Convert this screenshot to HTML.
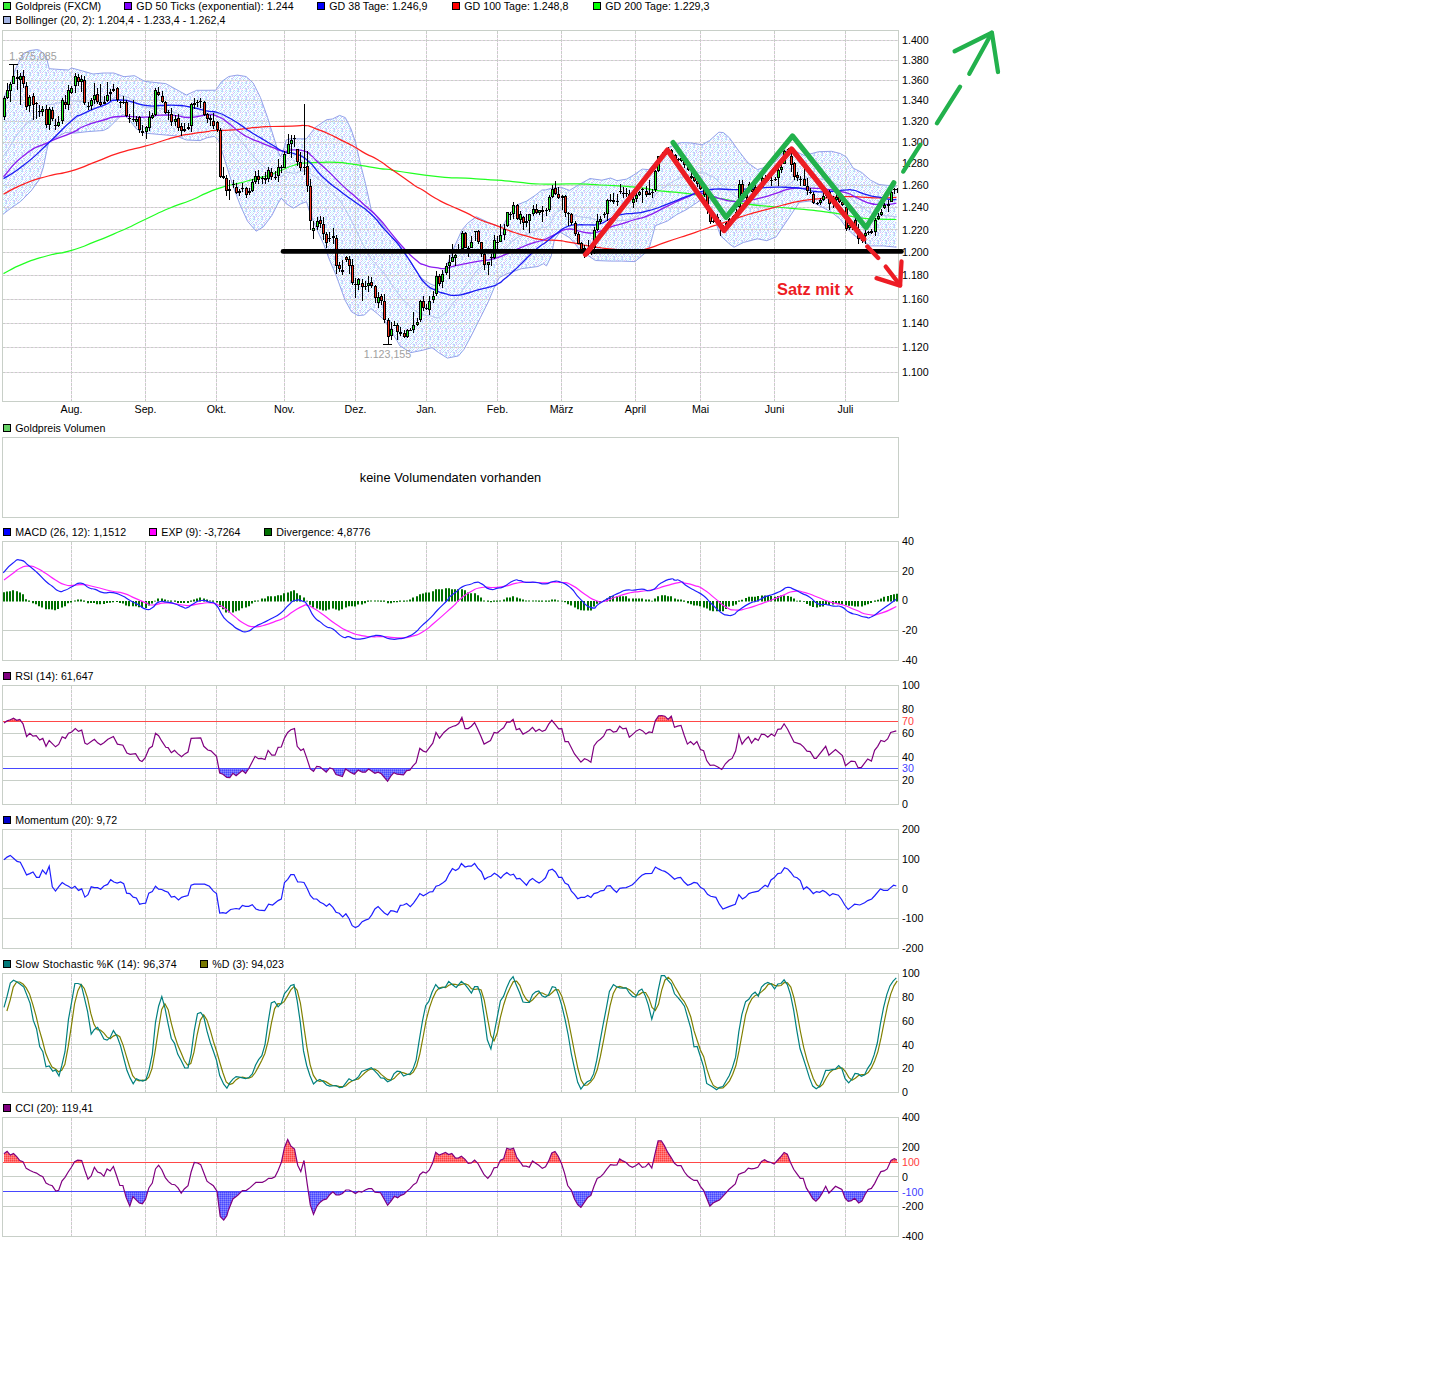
<!DOCTYPE html><html><head><meta charset="utf-8"><title>Goldpreis Chart</title><style>html,body{margin:0;padding:0;background:#fff;}svg{display:block;}text{font-family:"Liberation Sans",sans-serif;}</style></head><body><svg width="1450" height="1390" viewBox="0 0 1450 1390" font-family="Liberation Sans, sans-serif">
<defs>
<pattern id="bb" width="8" height="8" patternUnits="userSpaceOnUse">
<rect width="8" height="8" fill="#ffffff"/>
<rect x="0" y="0" width="1" height="1" fill="#c4ccfc"/>
<rect x="0" y="4" width="1" height="1" fill="#fcd0f8"/>
<rect x="0" y="6" width="1" height="1" fill="#c4ccfc"/>
<rect x="0" y="7" width="1" height="1" fill="#fcd0f8"/>
<rect x="1" y="1" width="1" height="1" fill="#fcd0f8"/>
<rect x="1" y="2" width="1" height="1" fill="#ccfcff"/>
<rect x="1" y="3" width="1" height="1" fill="#c4ccfc"/>
<rect x="1" y="5" width="1" height="1" fill="#c4ccfc"/>
<rect x="1" y="7" width="1" height="1" fill="#ccfcff"/>
<rect x="2" y="0" width="1" height="1" fill="#c4ccfc"/>
<rect x="2" y="2" width="1" height="1" fill="#c4ccfc"/>
<rect x="2" y="4" width="1" height="1" fill="#c4ccfc"/>
<rect x="2" y="6" width="1" height="1" fill="#ccfcff"/>
<rect x="3" y="3" width="1" height="1" fill="#ccfcff"/>
<rect x="3" y="5" width="1" height="1" fill="#ccfcff"/>
<rect x="3" y="7" width="1" height="1" fill="#c4ccfc"/>
<rect x="4" y="0" width="1" height="1" fill="#ccfcff"/>
<rect x="4" y="2" width="1" height="1" fill="#ccfcff"/>
<rect x="4" y="4" width="1" height="1" fill="#ccfcff"/>
<rect x="4" y="6" width="1" height="1" fill="#c4ccfc"/>
<rect x="5" y="0" width="1" height="1" fill="#c4ccfc"/>
<rect x="5" y="1" width="1" height="1" fill="#fcd0f8"/>
<rect x="5" y="2" width="1" height="1" fill="#ccfcff"/>
<rect x="5" y="3" width="1" height="1" fill="#c4ccfc"/>
<rect x="5" y="5" width="1" height="1" fill="#c4ccfc"/>
<rect x="5" y="7" width="1" height="1" fill="#ccfcff"/>
<rect x="6" y="0" width="1" height="1" fill="#c4ccfc"/>
<rect x="6" y="1" width="1" height="1" fill="#c4ccfc"/>
<rect x="6" y="2" width="1" height="1" fill="#c4ccfc"/>
<rect x="6" y="3" width="1" height="1" fill="#c4ccfc"/>
<rect x="6" y="4" width="1" height="1" fill="#ccfcff"/>
<rect x="7" y="1" width="1" height="1" fill="#ccfcff"/>
<rect x="7" y="3" width="1" height="1" fill="#ccfcff"/>
<rect x="7" y="6" width="1" height="1" fill="#c4ccfc"/>
<rect x="7" y="7" width="1" height="1" fill="#ccfcff"/>
</pattern>
<pattern id="redf" width="2" height="2" patternUnits="userSpaceOnUse"><rect width="2" height="2" fill="#ff6a6a"/><rect width="1" height="1" fill="#ff4040"/><rect x="1" y="1" width="1" height="1" fill="#ff8c8c"/></pattern>
<pattern id="bluef" width="2" height="2" patternUnits="userSpaceOnUse"><rect width="2" height="2" fill="#6a6aff"/><rect width="1" height="1" fill="#4848ff"/><rect x="1" y="1" width="1" height="1" fill="#8c8cff"/></pattern>
</defs>
<rect width="1450" height="1390" fill="#fff"/>
<rect x="3.5" y="2.5" width="7" height="7" fill="#33ee33" stroke="#000"/>
<text x="15.3" y="9.5" fill="#000" font-size="10.67" text-anchor="start" font-weight="normal">Goldpreis (FXCM)</text>
<rect x="124.5" y="2.5" width="7" height="7" fill="#7f00ff" stroke="#000"/>
<text x="136.3" y="9.5" fill="#000" font-size="10.67" text-anchor="start" font-weight="normal" letter-spacing="0.07">GD 50 Ticks (exponential): 1.244</text>
<rect x="317.5" y="2.5" width="7" height="7" fill="#0000ff" stroke="#000"/>
<text x="329.3" y="9.5" fill="#000" font-size="10.67" text-anchor="start" font-weight="normal">GD 38 Tage: 1.246,9</text>
<rect x="452.5" y="2.5" width="7" height="7" fill="#ff0000" stroke="#000"/>
<text x="464.3" y="9.5" fill="#000" font-size="10.67" text-anchor="start" font-weight="normal">GD 100 Tage: 1.248,8</text>
<rect x="593.5" y="2.5" width="7" height="7" fill="#00ff00" stroke="#000"/>
<text x="605.3" y="9.5" fill="#000" font-size="10.67" text-anchor="start" font-weight="normal">GD 200 Tage: 1.229,3</text>
<rect x="3.5" y="16.5" width="7" height="7" fill="#a4b4e4" stroke="#000"/>
<text x="15.3" y="23.5" fill="#000" font-size="10.67" text-anchor="start" font-weight="normal" letter-spacing="0.075">Bollinger (20, 2): 1.204,4 - 1.233,4 - 1.262,4</text>
<polygon points="3,99 4.3,96.8 8,88 12.1,79.5 15,70 19.4,61 23.3,53.7 30,50.5 36.9,49.6 39.7,50.3 44,54 46.5,57.8 49.2,68.7 60,69.5 68.4,70 71.6,68 82.8,71 93,74 103.4,73 113.8,73 124,76.7 134.5,75.7 144.8,81.4 165.7,83.6 176,89.3 186.4,95 196.7,90.3 207,90.3 215.8,90.2 221.6,81.6 228.8,76.5 237.4,75.1 246,76.5 253.2,83 260.4,97.4 267.6,117.6 274.8,140.6 277.5,150 280.5,157 283.5,150 286.3,140 290,138.8 306.5,138.8 315.1,127.6 326.6,119.7 332.4,119 339.6,115.4 345.3,117.6 351.1,129.1 355.4,142 359.7,160.7 365.5,183.7 371.2,209.6 380.7,222 390,234.9 397,243 405,254.2 410,260.2 415.1,269.7 420.1,276.8 425.1,280.8 430.2,283.8 434,285.5 438,284 443,274 449.3,259.2 453.3,249.1 457.4,240.1 461.9,230 467.4,223.5 476.1,216.7 485,220.8 492,224 498.5,226.3 502.5,226.5 505,222 509,214.8 517,204.9 526.4,201.2 535.7,195 541.9,190 545.8,189.9 551.2,188.3 560.9,187.2 569.5,190.4 580.3,183.9 590,178.5 601.9,180.2 610.5,178 617,180.7 626.7,179.1 635,174.2 642.2,169.1 648.7,169.6 658.1,159.3 669.3,147.1 681.5,142.5 690.8,142.9 702,144.8 709.5,140.6 718.9,132.2 723.5,132.6 729.4,137.8 738.7,150.9 748.1,163 757.4,169.6 766.8,166.8 776.1,161.2 785.5,149.9 794.8,150.9 804.2,155.5 810,154 818.6,151.7 831.6,151.3 840.2,153.5 846.3,156.9 853.2,168.1 861.8,172.5 870.5,180.2 879.1,184.5 887.7,185.4 896.4,186.3 896.4,247.2 883.4,245.9 870.5,245.9 861.8,240.7 853.2,234.6 846.3,227.7 840.2,219.1 831.6,212.2 818.6,205.3 810,201 799.5,202.3 794.8,208.9 785.5,222.9 776.1,236.9 766.8,240.7 757.4,238.8 743.4,242.5 734,247.2 730,244.4 720.7,236 714.2,218.2 704.8,202.3 700.2,200.4 686.1,209.8 676.8,214.5 667.4,221 655.3,225.7 648.7,250 635,261.6 621.3,261.1 610.5,261.1 595.4,260.5 589,256.2 580,250 570,238 560,232 554.4,240 551.2,256.2 546.5,265.9 543.4,263.7 537.9,266.5 521.4,268.7 505.9,274.2 499.3,277.5 493.8,288.6 488.3,301.8 480.6,317.2 471.7,334.9 464,349.3 458.5,355.9 447.4,358.1 438.6,352.6 432,347.6 422,350.4 411,352.6 400,346 396.8,340.3 390.3,329.9 383.9,319.5 377.4,313.7 370.9,308.5 364.4,315 358,315.6 351.5,311.8 345,300.1 336,275 329.5,260 323.7,244.2 315.1,225.5 309.4,211.1 306.5,201.7 300.7,203.9 293.5,208.2 286.3,203.9 281.3,198.1 277.7,203.9 271.9,215.4 263.3,226.9 256.1,231.2 247.5,221.2 240.3,205.3 233.1,186.6 225.9,163.6 218.7,140.6 214.4,136.3 207.2,137.7 200,140.6 186.4,140 176,135.9 160,134.5 144.8,133.1 136.5,129 129.3,119.7 123.1,114.5 119,117.6 108.6,127.9 103.4,130.5 87.9,131.6 74.5,133.1 65.2,132.6 54.8,138.3 48.6,142.4 46.5,151.7 43.4,167.2 39.3,179.7 31,191 20.7,201.4 10.3,208.6 3,214.3" fill="url(#bb)"/>
<line x1="2.5" y1="40.5" x2="898.5" y2="40.5" stroke="#fcdcfc" stroke-width="1"/>
<line x1="2.5" y1="40.5" x2="898.5" y2="40.5" stroke="#c8cfc8" stroke-width="1" stroke-dasharray="3,1"/>
<line x1="2.5" y1="60.5" x2="898.5" y2="60.5" stroke="#fcdcfc" stroke-width="1"/>
<line x1="2.5" y1="60.5" x2="898.5" y2="60.5" stroke="#c8cfc8" stroke-width="1" stroke-dasharray="3,1"/>
<line x1="2.5" y1="80.5" x2="898.5" y2="80.5" stroke="#fcdcfc" stroke-width="1"/>
<line x1="2.5" y1="80.5" x2="898.5" y2="80.5" stroke="#c8cfc8" stroke-width="1" stroke-dasharray="3,1"/>
<line x1="2.5" y1="100.5" x2="898.5" y2="100.5" stroke="#fcdcfc" stroke-width="1"/>
<line x1="2.5" y1="100.5" x2="898.5" y2="100.5" stroke="#c8cfc8" stroke-width="1" stroke-dasharray="3,1"/>
<line x1="2.5" y1="121.5" x2="898.5" y2="121.5" stroke="#fcdcfc" stroke-width="1"/>
<line x1="2.5" y1="121.5" x2="898.5" y2="121.5" stroke="#c8cfc8" stroke-width="1" stroke-dasharray="3,1"/>
<line x1="2.5" y1="142.5" x2="898.5" y2="142.5" stroke="#fcdcfc" stroke-width="1"/>
<line x1="2.5" y1="142.5" x2="898.5" y2="142.5" stroke="#c8cfc8" stroke-width="1" stroke-dasharray="3,1"/>
<line x1="2.5" y1="163.5" x2="898.5" y2="163.5" stroke="#fcdcfc" stroke-width="1"/>
<line x1="2.5" y1="163.5" x2="898.5" y2="163.5" stroke="#c8cfc8" stroke-width="1" stroke-dasharray="3,1"/>
<line x1="2.5" y1="185.5" x2="898.5" y2="185.5" stroke="#fcdcfc" stroke-width="1"/>
<line x1="2.5" y1="185.5" x2="898.5" y2="185.5" stroke="#c8cfc8" stroke-width="1" stroke-dasharray="3,1"/>
<line x1="2.5" y1="207.5" x2="898.5" y2="207.5" stroke="#fcdcfc" stroke-width="1"/>
<line x1="2.5" y1="207.5" x2="898.5" y2="207.5" stroke="#c8cfc8" stroke-width="1" stroke-dasharray="3,1"/>
<line x1="2.5" y1="229.5" x2="898.5" y2="229.5" stroke="#fcdcfc" stroke-width="1"/>
<line x1="2.5" y1="229.5" x2="898.5" y2="229.5" stroke="#c8cfc8" stroke-width="1" stroke-dasharray="3,1"/>
<line x1="2.5" y1="252.5" x2="898.5" y2="252.5" stroke="#fcdcfc" stroke-width="1"/>
<line x1="2.5" y1="252.5" x2="898.5" y2="252.5" stroke="#c8cfc8" stroke-width="1" stroke-dasharray="3,1"/>
<line x1="2.5" y1="275.5" x2="898.5" y2="275.5" stroke="#fcdcfc" stroke-width="1"/>
<line x1="2.5" y1="275.5" x2="898.5" y2="275.5" stroke="#c8cfc8" stroke-width="1" stroke-dasharray="3,1"/>
<line x1="2.5" y1="299.5" x2="898.5" y2="299.5" stroke="#fcdcfc" stroke-width="1"/>
<line x1="2.5" y1="299.5" x2="898.5" y2="299.5" stroke="#c8cfc8" stroke-width="1" stroke-dasharray="3,1"/>
<line x1="2.5" y1="323.5" x2="898.5" y2="323.5" stroke="#fcdcfc" stroke-width="1"/>
<line x1="2.5" y1="323.5" x2="898.5" y2="323.5" stroke="#c8cfc8" stroke-width="1" stroke-dasharray="3,1"/>
<line x1="2.5" y1="347.5" x2="898.5" y2="347.5" stroke="#fcdcfc" stroke-width="1"/>
<line x1="2.5" y1="347.5" x2="898.5" y2="347.5" stroke="#c8cfc8" stroke-width="1" stroke-dasharray="3,1"/>
<line x1="2.5" y1="372.5" x2="898.5" y2="372.5" stroke="#fcdcfc" stroke-width="1"/>
<line x1="2.5" y1="372.5" x2="898.5" y2="372.5" stroke="#c8cfc8" stroke-width="1" stroke-dasharray="3,1"/>
<line x1="71.5" y1="31" x2="71.5" y2="401" stroke="#fcdcfc" stroke-width="1"/>
<line x1="71.5" y1="31" x2="71.5" y2="401" stroke="#c8cfc8" stroke-width="1" stroke-dasharray="3,1"/>
<line x1="145.5" y1="31" x2="145.5" y2="401" stroke="#fcdcfc" stroke-width="1"/>
<line x1="145.5" y1="31" x2="145.5" y2="401" stroke="#c8cfc8" stroke-width="1" stroke-dasharray="3,1"/>
<line x1="216.5" y1="31" x2="216.5" y2="401" stroke="#fcdcfc" stroke-width="1"/>
<line x1="216.5" y1="31" x2="216.5" y2="401" stroke="#c8cfc8" stroke-width="1" stroke-dasharray="3,1"/>
<line x1="284.5" y1="31" x2="284.5" y2="401" stroke="#fcdcfc" stroke-width="1"/>
<line x1="284.5" y1="31" x2="284.5" y2="401" stroke="#c8cfc8" stroke-width="1" stroke-dasharray="3,1"/>
<line x1="355.5" y1="31" x2="355.5" y2="401" stroke="#fcdcfc" stroke-width="1"/>
<line x1="355.5" y1="31" x2="355.5" y2="401" stroke="#c8cfc8" stroke-width="1" stroke-dasharray="3,1"/>
<line x1="426.5" y1="31" x2="426.5" y2="401" stroke="#fcdcfc" stroke-width="1"/>
<line x1="426.5" y1="31" x2="426.5" y2="401" stroke="#c8cfc8" stroke-width="1" stroke-dasharray="3,1"/>
<line x1="497.5" y1="31" x2="497.5" y2="401" stroke="#fcdcfc" stroke-width="1"/>
<line x1="497.5" y1="31" x2="497.5" y2="401" stroke="#c8cfc8" stroke-width="1" stroke-dasharray="3,1"/>
<line x1="561.5" y1="31" x2="561.5" y2="401" stroke="#fcdcfc" stroke-width="1"/>
<line x1="561.5" y1="31" x2="561.5" y2="401" stroke="#c8cfc8" stroke-width="1" stroke-dasharray="3,1"/>
<line x1="635.5" y1="31" x2="635.5" y2="401" stroke="#fcdcfc" stroke-width="1"/>
<line x1="635.5" y1="31" x2="635.5" y2="401" stroke="#c8cfc8" stroke-width="1" stroke-dasharray="3,1"/>
<line x1="700.5" y1="31" x2="700.5" y2="401" stroke="#fcdcfc" stroke-width="1"/>
<line x1="700.5" y1="31" x2="700.5" y2="401" stroke="#c8cfc8" stroke-width="1" stroke-dasharray="3,1"/>
<line x1="774.5" y1="31" x2="774.5" y2="401" stroke="#fcdcfc" stroke-width="1"/>
<line x1="774.5" y1="31" x2="774.5" y2="401" stroke="#c8cfc8" stroke-width="1" stroke-dasharray="3,1"/>
<line x1="845.5" y1="31" x2="845.5" y2="401" stroke="#fcdcfc" stroke-width="1"/>
<line x1="845.5" y1="31" x2="845.5" y2="401" stroke="#c8cfc8" stroke-width="1" stroke-dasharray="3,1"/>
<polyline points="3,156.7 6,152.4 9,147.8 12,143.6 15,137.7 18,133.6 21,129.6 24,125.7 27,123.5 30,121.3 33,119.2 36,117 39,115.1 42,111.9 45,107.4 48,104.5 51,104.8 54,103.9 57,103.2 60,102.5 63,101.7 66,101.3 69,101.2 72,100.5 75,101 78,101.2 81,101.4 84,101.7 87,102 90,102.3 93,102.6 96,102.4 99,102.1 102,101.9 105,101.3 108,100.6 111,99.3 114,97.8 117,96.9 120,96 123,95.5 126,96.7 129,97.8 132,99.6 135,101.5 138,103.7 141,105.3 144,106.8 147,107.5 150,107.8 153,108.1 156,108.4 159,108.7 162,108.9 165,109.2 168,110 171,111 174,112 177,113.1 180,114.5 183,115.9 186,117.3 189,117 192,116.3 195,115.7 198,115.4 201,115.2 204,114.6 207,114 210,113.7 213,113.4 216,113.9 219,113.5 222,116.2 225,120 228,123.7 231,128 234,132.3 237,135.9 240,140 243,143.6 246,147.2 249,151.1 252,154.2 255,158.3 258,161.3 261,163.7 264,166.7 267,168.9 270,171.6 273,174 276,176 279,177.7 282,176.2 285,173.5 288,172.2 291,172.8 294,173.4 297,172.5 300,171.6 303,170.9 306,170.3 309,172.7 312,174.7 315,176.5 318,178.7 321,180.9 324,183.3 327,186.4 330,190.2 333,193.4 336,196.1 339,199.5 342,204 345,208.8 348,214.2 351,219.9 354,225.5 357,232 360,238.7 363,244.5 366,249.7 369,255 372,260 375,263.2 378,266.4 381,269.7 384,273.1 387,277.6 390,282.2 393,286.3 396,290.4 399,295 402,298.6 405,301.6 408,304.3 411,307.3 414,309.8 417,311.9 420,313.7 423,314.6 426,315.3 429,315.8 432,316.1 435,317.5 438,318.1 441,316.1 444,313.8 447,311.2 450,307.5 453,303.4 456,299.8 459,295.9 462,290.8 465,286.9 468,282.4 471,278.4 474,274.3 477,270.7 480,268.4 483,266.1 486,263.8 489,261.4 492,258.5 495,255.6 498,253.1 501,251.5 504,249.5 507,246.1 510,243.2 513,240.8 516,238.4 519,236.8 522,235.8 525,235 528,234 531,232.8 534,231.6 537,230.3 540,228.5 543,226.9 546,227.7 549,224.8 552,220.2 555,213.5 558,211.2 561,209.9 564,211.4 567,212.8 570,214 573,214.9 576,215.8 579,216.7 582,217.2 585,217.4 588,217.6 591,218.1 594,219.3 597,220 600,220.3 603,220.4 606,220 609,219.7 612,219.9 615,220.5 618,220.8 621,220.6 624,220.4 627,220.1 630,219.3 633,218.5 636,217.1 639,214.8 642,212.5 645,211.2 648,210.1 651,204.3 654,197.1 657,192.8 660,190.6 663,188.3 666,186.1 669,183.7 672,182 675,180.3 678,178.9 681,177.5 684,176.7 687,176 690,175 693,174.2 696,173.5 699,172.7 702,173 705,172.9 708,174.6 711,176 714,177.2 717,179.9 720,183.2 723,185.3 726,187.8 729,190.5 732,193.6 735,196.2 738,197.6 741,198.8 744,200 747,201.6 750,202.6 753,203.2 756,203.9 759,204.1 762,204 765,203.8 768,203.1 771,201.6 774,200.1 777,197.8 780,193.8 783,189.8 786,186.1 789,184 792,181.9 795,179.8 798,178.4 801,178 804,178.6 807,178.1 810,177.5 813,177.8 816,178.2 819,178.6 822,179.3 825,180.1 828,180.8 831,181.6 834,183 837,184.6 840,186.2 843,189.1 846,192 849,195.8 852,199.8 855,202.4 858,204.3 861,206.1 864,208.2 867,210.5 870,212.7 873,213.7 876,214.4 879,215.2 882,215.4 885,215.6 888,215.9 891,216.2 894,216.5 897,216.8" fill="none" stroke="#b8c6ee" stroke-width="1"/>
<polyline points="3,99 4.3,96.8 8,88 12.1,79.5 15,70 19.4,61 23.3,53.7 30,50.5 36.9,49.6 39.7,50.3 44,54 46.5,57.8 49.2,68.7 60,69.5 68.4,70 71.6,68 82.8,71 93,74 103.4,73 113.8,73 124,76.7 134.5,75.7 144.8,81.4 165.7,83.6 176,89.3 186.4,95 196.7,90.3 207,90.3 215.8,90.2 221.6,81.6 228.8,76.5 237.4,75.1 246,76.5 253.2,83 260.4,97.4 267.6,117.6 274.8,140.6 277.5,150 280.5,157 283.5,150 286.3,140 290,138.8 306.5,138.8 315.1,127.6 326.6,119.7 332.4,119 339.6,115.4 345.3,117.6 351.1,129.1 355.4,142 359.7,160.7 365.5,183.7 371.2,209.6 380.7,222 390,234.9 397,243 405,254.2 410,260.2 415.1,269.7 420.1,276.8 425.1,280.8 430.2,283.8 434,285.5 438,284 443,274 449.3,259.2 453.3,249.1 457.4,240.1 461.9,230 467.4,223.5 476.1,216.7 485,220.8 492,224 498.5,226.3 502.5,226.5 505,222 509,214.8 517,204.9 526.4,201.2 535.7,195 541.9,190 545.8,189.9 551.2,188.3 560.9,187.2 569.5,190.4 580.3,183.9 590,178.5 601.9,180.2 610.5,178 617,180.7 626.7,179.1 635,174.2 642.2,169.1 648.7,169.6 658.1,159.3 669.3,147.1 681.5,142.5 690.8,142.9 702,144.8 709.5,140.6 718.9,132.2 723.5,132.6 729.4,137.8 738.7,150.9 748.1,163 757.4,169.6 766.8,166.8 776.1,161.2 785.5,149.9 794.8,150.9 804.2,155.5 810,154 818.6,151.7 831.6,151.3 840.2,153.5 846.3,156.9 853.2,168.1 861.8,172.5 870.5,180.2 879.1,184.5 887.7,185.4 896.4,186.3" fill="none" stroke="#94a2ea" stroke-width="1"/>
<polyline points="3,214.3 10.3,208.6 20.7,201.4 31,191 39.3,179.7 43.4,167.2 46.5,151.7 48.6,142.4 54.8,138.3 65.2,132.6 74.5,133.1 87.9,131.6 103.4,130.5 108.6,127.9 119,117.6 123.1,114.5 129.3,119.7 136.5,129 144.8,133.1 160,134.5 176,135.9 186.4,140 200,140.6 207.2,137.7 214.4,136.3 218.7,140.6 225.9,163.6 233.1,186.6 240.3,205.3 247.5,221.2 256.1,231.2 263.3,226.9 271.9,215.4 277.7,203.9 281.3,198.1 286.3,203.9 293.5,208.2 300.7,203.9 306.5,201.7 309.4,211.1 315.1,225.5 323.7,244.2 329.5,260 336,275 345,300.1 351.5,311.8 358,315.6 364.4,315 370.9,308.5 377.4,313.7 383.9,319.5 390.3,329.9 396.8,340.3 400,346 411,352.6 422,350.4 432,347.6 438.6,352.6 447.4,358.1 458.5,355.9 464,349.3 471.7,334.9 480.6,317.2 488.3,301.8 493.8,288.6 499.3,277.5 505.9,274.2 521.4,268.7 537.9,266.5 543.4,263.7 546.5,265.9 551.2,256.2 554.4,240 560,232 570,238 580,250 589,256.2 595.4,260.5 610.5,261.1 621.3,261.1 635,261.6 648.7,250 655.3,225.7 667.4,221 676.8,214.5 686.1,209.8 700.2,200.4 704.8,202.3 714.2,218.2 720.7,236 730,244.4 734,247.2 743.4,242.5 757.4,238.8 766.8,240.7 776.1,236.9 785.5,222.9 794.8,208.9 799.5,202.3 810,201 818.6,205.3 831.6,212.2 840.2,219.1 846.3,227.7 853.2,234.6 861.8,240.7 870.5,245.9 883.4,245.9 896.4,247.2" fill="none" stroke="#94a2ea" stroke-width="1"/>
<path d="M3.5 273.6C10.4 270.2 9.3 269.3 24.2 263.3C39.1 257.3 32.5 259.8 48.3 255.5C64.1 251.2 56 254.9 71.6 250.3C87.2 245.7 78.9 248 95 241.7C111.1 235.4 103.3 238.7 120 231.3C136.7 223.9 128.3 227.3 145 219.5C161.7 211.7 154.5 214.5 170 208C185.5 201.5 179.2 205.1 191.5 200C203.8 194.9 196.6 197.1 207 192.8C217.4 188.5 212.3 190.2 222.6 187.1C232.9 184 227.7 186 238 183.4C248.3 180.8 243.3 182 253.6 179.3C263.9 176.6 260.4 178 269 175.2C277.6 172.4 270.9 174.4 279.5 171C288.1 167.6 285.3 167.7 294.8 165C304.3 162.3 298.7 163.8 307.9 162.9C317.1 162 312.7 162.6 322.3 162.4C331.9 162.2 327.1 161.9 336.7 162.4C346.3 162.9 341.5 162.6 351.1 163.9C360.7 165.2 355.9 164.6 365.5 166.2C375.1 167.8 371.7 167.5 379.9 168.6C388.1 169.7 383.3 168.5 390 169.5C396.7 170.5 383.3 169 400 171.5C416.7 174 418 174.7 440 176.9C462 179.1 447 177.1 466 178.2C485 179.3 479.7 178.9 497 180.2C514.3 181.5 503.7 180.8 518 182.1C532.3 183.4 521.2 183.4 540 184C558.8 184.6 554.5 183.6 574.4 183.9C594.3 184.2 579.5 183.9 599.7 185C619.9 186.1 615.6 185.3 635 187.2C654.4 189.1 641 188.5 658 190.6C675 192.7 667.3 191.1 686 193.4C704.7 195.7 699.5 195.3 714.2 197.6C728.9 199.9 718.7 198.2 730 200.4C741.3 202.6 732.7 202 748 204.2C763.3 206.4 757.3 205.3 776 207C794.7 208.7 789.3 207.9 804 209.3C818.7 210.7 812.2 210.2 820 211.2C827.8 212.2 819.1 211 827.3 212.2C835.5 213.4 833 212.8 844.5 214.8C856 216.8 850.3 216.8 861.8 218.2C873.3 219.6 867.6 218.7 879.1 219.1C890.6 219.5 890.6 219.4 896.4 219.5" fill="none" stroke="#22ff22" stroke-width="1.25"/>
<path d="M3.5 194.2C10.4 190.7 9.3 189.9 24.2 183.8C39.1 177.7 32.5 180.3 48.3 176C64.1 171.7 56 175.5 71.6 170.9C87.2 166.3 78.9 168.3 95 162.2C111.1 156.1 103.3 158 120 152.7C136.7 147.4 131.5 149.9 145 146.2C158.5 142.5 150.2 144.6 160.5 141.5C170.8 138.4 165.7 139.5 176 136.9C186.3 134.3 181.2 135.5 191.5 133.8C201.8 132.1 199.4 132.8 207 131.7C214.6 130.6 207.1 131 214.4 130.5C221.7 130 219.2 130.8 228.8 130.2C238.4 129.6 233.6 129.8 243.2 128.8C252.8 127.8 248 128.1 257.6 127.3C267.2 126.5 260.4 126.9 271.9 126.5C283.4 126.1 281.3 126.4 292.2 126.1C303.1 125.8 298.4 125.3 304.5 125.5C310.6 125.7 306.5 125.5 310.6 126.7C314.7 127.9 310.6 126.7 316.7 129.1C322.8 131.5 320.8 130.3 328.9 134C337 137.7 332.9 136 341.1 140.1C349.3 144.2 345.2 141.7 353.4 146.2C361.6 150.7 357.5 149.1 365.6 153.6C373.7 158.1 369.7 154.8 377.8 159.7C385.9 164.6 381.8 162.5 390 168.2C398.2 173.9 394.1 171.1 402.3 176.8C410.5 182.5 407.7 181 414.5 185.4C421.3 189.8 415.9 185.8 422.7 190C429.5 194.2 425.9 192.8 435 198C444.1 203.2 439.8 200.7 450 205.5C460.2 210.3 455.3 207.6 465.5 212.4C475.7 217.2 470.6 215.7 480.7 220C490.8 224.3 485.8 221.5 495.9 225.3C506 229.1 501 227.8 511 231.3C521 234.8 515.9 233.1 526 235.9C536.1 238.7 531.2 238.2 541.4 239.7C551.6 241.2 546.5 239.4 556.6 240.4C566.7 241.4 561.6 240.9 571.7 242.7C581.8 244.5 576.8 243.9 586.9 245.7C597 247.5 592 246.7 602 248C612 249.3 607.7 248.8 617 249.5C626.3 250.2 621 250 630 250C639 250 631.5 252.3 644 249.5C656.5 246.7 650.2 247.3 667.4 241.6C684.6 235.9 679.9 237.6 695.5 232.3C711.1 227 706 228.5 714.2 225.7C722.4 222.9 713.4 226 720 223.8C726.6 221.6 724.7 222.3 734 219.2C743.3 216.1 738.7 217.3 748 214.5C757.3 211.7 752.7 213.2 762 210.7C771.3 208.2 766.7 209.5 776 207C785.3 204.5 780.7 205.5 790 203.3C799.3 201.1 795.7 201.8 804 200.4C812.3 199 807.2 200 815 199.2C822.8 198.4 817.5 198.8 827.3 197.9C837.1 197 833 196.9 844.5 196.6C856 196.3 850.3 196.7 861.8 197.1C873.3 197.5 867.6 197.8 879.1 197.9C890.6 198 890.6 197.5 896.4 197.3" fill="none" stroke="#ff2020" stroke-width="1.25"/>
<path d="M3.5 176.9C10.4 169.7 9.3 166.8 24.2 155.3C39.1 143.8 32.5 149.9 48.3 142.4C64.1 134.9 59.5 138.4 71.6 132.9C83.7 127.4 73.9 130.3 84.6 126C95.3 121.7 91.8 123.2 103.6 120C115.4 116.8 106.2 117.4 120 116.5C133.8 115.6 131.5 117.6 145 117.2C158.5 116.8 150.2 115.7 160.5 115.2C170.8 114.7 166.3 114.9 176 115.7C185.7 116.5 179.6 117.7 189.7 117.5C199.8 117.3 197 115.6 206.2 115.2C215.4 114.8 209.9 113.7 217.3 116.3C224.7 118.9 221 117.8 228.3 123C235.6 128.2 231.9 126.7 239.3 131.8C246.7 136.9 243 134.7 250.4 138.4C257.8 142.1 254.1 139.8 261.4 142.8C268.7 145.8 265 144.5 272.4 147.3C279.8 150.1 276.9 150.2 283.5 151.1C290.1 152 285.2 149.9 292.2 149.9C299.2 149.9 298 149.1 304.5 151.1C311 153.1 307.7 152.7 311.8 156C315.9 159.3 311 155.6 316.7 160.9C322.4 166.2 320.8 164.2 328.9 171.9C337 179.6 332.9 176.4 341.1 184.1C349.3 191.8 345.2 187.8 353.4 195.1C361.6 202.4 357.5 198.7 365.6 206.1C373.7 213.5 369.7 208.6 377.8 217.2C385.9 225.8 381.8 222 390 231.8C398.2 241.6 393.6 237.1 402.3 246.5C411 255.9 408.4 253.8 416 260C423.6 266.2 418.3 262.5 425 265.1C431.7 267.7 429.3 266.6 436 267.7C442.7 268.8 439.3 268.9 445 268.4C450.7 267.9 446 267.9 453 266.3C460 264.7 457.3 265.4 466 263.7C474.7 262 470.3 262.6 479 261.1C487.7 259.6 483.3 261.4 492 259.2C500.7 257 496.3 258.1 505 254.6C513.7 251.1 509.3 252.5 518 248.8C526.7 245.1 523.7 246.2 531 243.6C538.3 241 535.1 242.5 540 241C544.9 239.5 540.3 241.5 545.8 239C551.3 236.5 549.4 236.9 556.6 233.6C563.8 230.3 560.2 230.1 567.4 229.2C574.6 228.3 570.9 229.6 578.1 230.9C585.3 232.2 581.7 232.8 588.9 233C596.1 233.2 592.5 233.4 599.7 231.4C606.9 229.4 603.3 229.6 610.5 227.1C617.7 224.6 613.1 226.4 621.3 223.9C629.5 221.4 625.9 222.3 635 219.5C644.1 216.7 637.9 219.9 648.7 215.4C659.5 210.9 654.9 212 667.4 206.1C679.9 200.2 675.2 201.8 686.1 197.6C697 193.4 690.8 193.7 700.2 193.4C709.6 193.1 707.6 195 714.2 196.7C720.8 198.4 713.4 197 720 198.6C726.6 200.2 724.7 200.8 734 201.4C743.3 202 738.7 201.7 748 200.4C757.3 199.1 752.7 199.9 762 197.6C771.3 195.3 766.7 196.3 776 193.4C785.3 190.5 780.7 190.5 790 188.8C799.3 187.1 795.7 188.5 804 188.3C812.3 188.1 807.2 188 815 188.3C822.8 188.6 817.5 188 827.3 189.3C837.1 190.6 835.9 190.1 844.5 192.3C853.1 194.5 847.4 193.2 853.2 195.8C859 198.4 856 197.5 861.8 200.1C867.6 202.7 864.7 202.1 870.5 203.5C876.3 204.9 873.4 204.1 879.1 204.4C884.8 204.7 881.9 204.8 887.7 204.4C893.5 204 893.5 203.5 896.4 203.1" fill="none" stroke="#8a1cf0" stroke-width="1.3"/>
<path d="M3.5 178.6C10.4 174 9.3 176.6 24.2 164.8C39.1 153 32.5 157.9 48.3 143.2C64.1 128.5 60.1 130.6 71.6 120.8C83.1 111 72.2 119.1 82.9 113.9C93.6 108.7 91.2 109.9 103.6 105.3C116 100.7 106.2 100 120 100C133.8 100 131.5 103.5 145 105.3C158.5 107.1 150.2 105.5 160.5 105.5C170.8 105.5 166.3 104.8 176 105.3C185.7 105.8 179.6 105.2 189.7 107C199.8 108.8 197 109 206.2 110.8C215.4 112.6 209.9 110.3 217.3 112.5C224.7 114.7 221 113.6 228.3 117.5C235.6 121.4 231.9 119.3 239.3 124.1C246.7 128.9 243 127 250.4 131.8C257.8 136.6 254.1 134 261.4 138.4C268.7 142.8 265 140.6 272.4 145C279.8 149.4 276.5 148.9 283.5 151.7C290.5 154.5 285.4 150.5 293.5 153.5C301.6 156.5 298.3 153 307.9 160.7C317.5 168.4 311.6 166.4 322.3 176.5C333 186.6 329.1 182.6 340 191.1C350.9 199.6 345 194.7 355 202.1C365 209.5 360.3 204.3 370.1 213.3C379.9 222.3 375.9 219.9 384.3 229.1C392.7 238.3 389.8 234.7 395.4 241C401 247.3 396.8 242.3 401 248C405.2 253.7 403 250.6 408 258C413 265.4 410.3 261.9 416 270.3C421.7 278.7 418.3 276.6 425 283.3C431.7 290 429.3 287 436 290.4C442.7 293.8 438.5 291.9 445 293.6C451.5 295.3 448.5 295.4 455.5 295.4C462.5 295.4 458.2 295.4 466 293.5C473.8 291.6 470.3 292 479 289.6C487.7 287.2 485.7 288.3 492 286.4C498.3 284.5 493.7 286.4 498 283.8C502.3 281.2 498.3 284.2 505 278.6C511.7 273 509.3 275.1 518 266.9C526.7 258.7 523.7 260.9 531 254C538.3 247.1 535.1 250.1 540 246.2C544.9 242.3 540.3 246.4 545.8 242.2C551.3 238 549.4 238.8 556.6 233.6C563.8 228.4 560.2 229.4 567.4 226.5C574.6 223.6 570.9 225.4 578.1 224.9C585.3 224.4 581.7 225.2 588.9 224.9C596.1 224.6 592.5 226 599.7 223.9C606.9 221.8 603.3 221.6 610.5 218.5C617.7 215.4 613.1 216.5 621.3 214.7C629.5 212.9 625.9 214.4 635 213.1C644.1 211.8 637.9 213.7 648.7 210.7C659.5 207.7 654.9 208.9 667.4 204.2C679.9 199.5 675.2 200.8 686.1 196.7C697 192.6 690.8 194.5 700.2 192C709.6 189.5 702.9 190 714.2 189.2C725.5 188.4 722.7 189.8 734 189.7C745.3 189.6 738.7 189.4 748 188.8C757.3 188.2 752.7 188.3 762 187.8C771.3 187.3 766.7 187.3 776 187.2C785.3 187.1 780.7 187 790 187.5C799.3 188 795.7 187.5 804 188.8C812.3 190.1 807.2 190.6 815 191.5C822.8 192.4 817.5 191.9 827.3 191.5C837.1 191.1 835.9 190.6 844.5 190.2C853.1 189.8 847.4 189.2 853.2 190.2C859 191.2 856 191.3 861.8 193.2C867.6 195.1 864.7 194.5 870.5 195.8C876.3 197.1 873.4 196 879.1 197.1C884.8 198.2 881.9 198.3 887.7 199.2C893.5 200.1 893.5 199.5 896.4 199.7" fill="none" stroke="#1c1cf4" stroke-width="1.3"/>
<path d="M4.5 96V120 M7.5 83V99 M10.5 82V102 M13.5 64V84 M17.5 70V90 M20.5 73V105 M23.5 70V88 M26.5 82V110 M29.5 95V112 M33.5 93V120 M36.5 102V119 M39.5 105V117 M42.5 106V116 M46.5 105V128 M49.5 107V130 M52.5 107V121 M55.5 119V130 M58.5 116V127 M62.5 98V124 M65.5 95V109 M68.5 85V110 M71.5 86V94 M75.5 73V93 M78.5 74V86 M81.5 75V92 M84.5 76V105 M88.5 102V110 M91.5 98V110 M94.5 83V104 M97.5 88V104 M100.5 84V106 M104.5 96V104 M107.5 82V102 M110.5 89V101 M113.5 84V92 M117.5 87V102 M120.5 101V108 M123.5 96V104 M126.5 100V117 M129.5 114V123 M133.5 100V122 M136.5 116V126 M139.5 116V133 M142.5 125V136 M146.5 126V139 M149.5 111V131 M152.5 113V119 M155.5 88V116 M158.5 87V96 M162.5 91V103 M165.5 101V114 M168.5 110V120 M171.5 108V126 M175.5 115V126 M178.5 114V131 M181.5 123V136 M184.5 123V132 M188.5 123V130 M191.5 103V132 M194.5 98V109 M197.5 100V107 M200.5 98V108 M204.5 101V116 M207.5 113V123 M210.5 115V126 M213.5 113V129 M217.5 121V132 M220.5 128V178 M223.5 167V179 M226.5 175V196 M229.5 180V200 M233.5 180V188 M236.5 183V194 M239.5 189V196 M242.5 183V192 M246.5 187V198 M249.5 188V195 M252.5 179V192 M255.5 171V184 M258.5 170V184 M262.5 176V184 M265.5 172V184 M268.5 167V182 M271.5 168V180 M275.5 171V180 M278.5 159V182 M281.5 165V173 M284.5 151V168 M288.5 134V154 M291.5 135V158 M294.5 135V147 M297.5 149V166 M300.5 152V171 M304.5 104V175 M307.5 151V192 M310.5 179V230 M313.5 221V239 M317.5 217V230 M320.5 216V228 M323.5 217V240 M326.5 232V248 M329.5 232V242 M333.5 228V244 M336.5 235V274 M339.5 262V272 M342.5 260V275 M346.5 256V262 M349.5 256V274 M352.5 259V285 M355.5 278V298 M358.5 278V290 M362.5 279V301 M365.5 281V290 M368.5 276V292 M371.5 277V288 M375.5 285V303 M378.5 292V308 M381.5 294V305 M384.5 294V323 M388.5 318V344 M391.5 322V340 M394.5 321V326 M397.5 323V340 M400.5 327V336 M404.5 330V338 M407.5 329V338 M410.5 328V331 M413.5 312V333 M417.5 318V326 M420.5 300V322 M423.5 296V311 M426.5 304V310 M429.5 296V315 M433.5 291V303 M436.5 271V296 M439.5 274V286 M442.5 270V288 M446.5 263V275 M449.5 255V279 M452.5 244V262 M455.5 254V266 M458.5 244V249 M462.5 231V249 M465.5 232V248 M468.5 246V257 M471.5 236V248 M475.5 231V241 M478.5 230V244 M481.5 242V257 M484.5 251V270 M488.5 262V275 M491.5 254V266 M494.5 235V259 M497.5 236V250 M500.5 224V242 M504.5 224V240 M507.5 212V227 M510.5 212V220 M513.5 202V219 M517.5 204V220 M520.5 211V224 M523.5 216V230 M526.5 214V227 M529.5 214V233 M533.5 205V216 M536.5 204V214 M539.5 210V215 M542.5 206V222 M546.5 208V216 M549.5 195V212 M552.5 185V198 M555.5 181V195 M558.5 187V199 M562.5 195V210 M565.5 195V217 M568.5 212V226 M571.5 213V225 M575.5 221V236 M578.5 232V244 M581.5 242V250 M584.5 245V258 M588.5 240V255 M591.5 244V255 M594.5 227V254 M597.5 214V231 M600.5 216V224 M604.5 212V218 M607.5 199V221 M610.5 194V202 M613.5 193V204 M617.5 194V206 M620.5 184V194 M623.5 187V198 M626.5 188V197 M629.5 190V202 M633.5 197V208 M636.5 193V202 M639.5 191V196 M642.5 188V203 M646.5 186V197 M649.5 180V195 M652.5 189V198 M655.5 170V192 M658.5 156V172 M662.5 152V158 M665.5 150V155 M668.5 147V154 M671.5 149V157 M675.5 154V162 M678.5 158V161 M681.5 156V162 M684.5 157V168 M688.5 164V171 M691.5 172V179 M694.5 175V182 M697.5 178V187 M700.5 181V190 M704.5 187V197 M707.5 192V214 M710.5 213V224 M713.5 215V223 M717.5 214V222 M720.5 220V236 M723.5 225V232 M726.5 222V231 M729.5 218V226 M733.5 215V221 M736.5 209V218 M739.5 180V208 M742.5 180V195 M746.5 191V200 M749.5 182V192 M752.5 187V193 M755.5 185V193 M758.5 187V189 M762.5 176V188 M765.5 175V181 M768.5 177V181 M771.5 170V186 M775.5 177V181 M778.5 164V186 M781.5 164V173 M784.5 150V164 M788.5 148V154 M791.5 153V172 M794.5 162V180 M797.5 172V181 M800.5 176V186 M804.5 168V186 M807.5 178V195 M810.5 188V194 M813.5 192V204 M817.5 202V205 M820.5 198V205 M823.5 189V201 M826.5 189V198 M829.5 190V210 M833.5 196V208 M836.5 194V202 M839.5 194V203 M842.5 198V206 M846.5 205V231 M849.5 222V230 M852.5 223V230 M855.5 217V228 M858.5 224V244 M862.5 238V243 M865.5 230V244 M868.5 231V235 M871.5 229V234 M875.5 218V236 M878.5 213V220 M881.5 209V216 M884.5 203V209 M888.5 200V212 M891.5 190V202 M894.5 188V194 M897.5 188V193" stroke="#000" stroke-width="1" fill="none"/>
<rect x="3.5" y="98.5" width="2" height="18" fill="#1ef01e" stroke="#000"/><rect x="6.5" y="90.5" width="2" height="7" fill="#1ef01e" stroke="#000"/><rect x="9.5" y="84.5" width="2" height="6" fill="#1ef01e" stroke="#000"/><rect x="12.5" y="76.5" width="2" height="7" fill="#1ef01e" stroke="#000"/><rect x="16.5" y="77.5" width="2" height="1" fill="#f0301c" stroke="#000"/><rect x="19.5" y="76.5" width="2" height="3" fill="#1ef01e" stroke="#000"/><rect x="22.5" y="76.5" width="2" height="7" fill="#f0301c" stroke="#000"/><rect x="25.5" y="86.5" width="2" height="20" fill="#f0301c" stroke="#000"/><rect x="28.5" y="97.5" width="2" height="8" fill="#1ef01e" stroke="#000"/><rect x="32.5" y="96.5" width="2" height="8" fill="#f0301c" stroke="#000"/><line x1="35" y1="103.5" x2="38" y2="103.5" stroke="#000"/><line x1="38" y1="111.5" x2="41" y2="111.5" stroke="#000"/><rect x="41.5" y="109.5" width="2" height="2" fill="#1ef01e" stroke="#000"/><rect x="45.5" y="109.5" width="2" height="15" fill="#f0301c" stroke="#000"/><rect x="48.5" y="109.5" width="2" height="15" fill="#1ef01e" stroke="#000"/><rect x="51.5" y="110.5" width="2" height="8" fill="#f0301c" stroke="#000"/><line x1="54" y1="125.5" x2="57" y2="125.5" stroke="#000"/><rect x="57.5" y="122.5" width="2" height="3" fill="#1ef01e" stroke="#000"/><rect x="61.5" y="100.5" width="2" height="20" fill="#1ef01e" stroke="#000"/><rect x="64.5" y="102.5" width="2" height="2" fill="#f0301c" stroke="#000"/><rect x="67.5" y="90.5" width="2" height="14" fill="#1ef01e" stroke="#000"/><rect x="70.5" y="88.5" width="2" height="4" fill="#1ef01e" stroke="#000"/><rect x="74.5" y="76.5" width="2" height="9" fill="#1ef01e" stroke="#000"/><rect x="77.5" y="77.5" width="2" height="4" fill="#f0301c" stroke="#000"/><rect x="80.5" y="79.5" width="2" height="2" fill="#1ef01e" stroke="#000"/><rect x="83.5" y="80.5" width="2" height="22" fill="#f0301c" stroke="#000"/><line x1="87" y1="106.5" x2="90" y2="106.5" stroke="#000"/><rect x="90.5" y="100.5" width="2" height="5" fill="#1ef01e" stroke="#000"/><rect x="93.5" y="95.5" width="2" height="4" fill="#1ef01e" stroke="#000"/><rect x="96.5" y="94.5" width="2" height="7" fill="#f0301c" stroke="#000"/><rect x="99.5" y="102.5" width="2" height="2" fill="#f0301c" stroke="#000"/><rect x="103.5" y="102.5" width="2" height="1" fill="#1ef01e" stroke="#000"/><rect x="106.5" y="95.5" width="2" height="5" fill="#1ef01e" stroke="#000"/><rect x="109.5" y="92.5" width="2" height="1" fill="#1ef01e" stroke="#000"/><rect x="112.5" y="89.5" width="2" height="1" fill="#1ef01e" stroke="#000"/><rect x="116.5" y="88.5" width="2" height="11" fill="#f0301c" stroke="#000"/><line x1="119" y1="102.5" x2="122" y2="102.5" stroke="#000"/><line x1="122" y1="102.5" x2="125" y2="102.5" stroke="#000"/><rect x="125.5" y="102.5" width="2" height="13" fill="#f0301c" stroke="#000"/><line x1="128" y1="118.5" x2="131" y2="118.5" stroke="#000"/><line x1="132" y1="119.5" x2="135" y2="119.5" stroke="#000"/><rect x="135.5" y="119.5" width="2" height="2" fill="#1ef01e" stroke="#000"/><rect x="138.5" y="117.5" width="2" height="12" fill="#f0301c" stroke="#000"/><rect x="141.5" y="131.5" width="2" height="1" fill="#f0301c" stroke="#000"/><rect x="145.5" y="127.5" width="2" height="4" fill="#1ef01e" stroke="#000"/><rect x="148.5" y="117.5" width="2" height="10" fill="#1ef01e" stroke="#000"/><rect x="151.5" y="115.5" width="2" height="2" fill="#1ef01e" stroke="#000"/><rect x="154.5" y="90.5" width="2" height="24" fill="#1ef01e" stroke="#000"/><rect x="157.5" y="92.5" width="2" height="2" fill="#f0301c" stroke="#000"/><rect x="161.5" y="96.5" width="2" height="5" fill="#f0301c" stroke="#000"/><rect x="164.5" y="102.5" width="2" height="10" fill="#f0301c" stroke="#000"/><line x1="167" y1="112.5" x2="170" y2="112.5" stroke="#000"/><rect x="170.5" y="114.5" width="2" height="7" fill="#f0301c" stroke="#000"/><rect x="174.5" y="119.5" width="2" height="2" fill="#1ef01e" stroke="#000"/><rect x="177.5" y="118.5" width="2" height="9" fill="#f0301c" stroke="#000"/><rect x="180.5" y="126.5" width="2" height="4" fill="#f0301c" stroke="#000"/><rect x="183.5" y="129.5" width="2" height="1" fill="#1ef01e" stroke="#000"/><rect x="187.5" y="127.5" width="2" height="1" fill="#1ef01e" stroke="#000"/><rect x="190.5" y="104.5" width="2" height="21" fill="#1ef01e" stroke="#000"/><rect x="193.5" y="103.5" width="2" height="1" fill="#1ef01e" stroke="#000"/><line x1="196" y1="102.5" x2="199" y2="102.5" stroke="#000"/><line x1="199" y1="101.5" x2="202" y2="101.5" stroke="#000"/><rect x="203.5" y="102.5" width="2" height="12" fill="#f0301c" stroke="#000"/><rect x="206.5" y="114.5" width="2" height="4" fill="#f0301c" stroke="#000"/><rect x="209.5" y="118.5" width="2" height="1" fill="#f0301c" stroke="#000"/><rect x="212.5" y="121.5" width="2" height="4" fill="#f0301c" stroke="#000"/><rect x="216.5" y="122.5" width="2" height="7" fill="#f0301c" stroke="#000"/><rect x="219.5" y="130.5" width="2" height="46" fill="#f0301c" stroke="#000"/><rect x="222.5" y="176.5" width="2" height="1" fill="#f0301c" stroke="#000"/><rect x="225.5" y="178.5" width="2" height="12" fill="#f0301c" stroke="#000"/><rect x="228.5" y="189.5" width="2" height="1" fill="#1ef01e" stroke="#000"/><line x1="232" y1="184.5" x2="235" y2="184.5" stroke="#000"/><rect x="235.5" y="187.5" width="2" height="5" fill="#f0301c" stroke="#000"/><rect x="238.5" y="191.5" width="2" height="1" fill="#1ef01e" stroke="#000"/><line x1="241" y1="188.5" x2="244" y2="188.5" stroke="#000"/><rect x="245.5" y="188.5" width="2" height="6" fill="#f0301c" stroke="#000"/><rect x="248.5" y="191.5" width="2" height="1" fill="#1ef01e" stroke="#000"/><rect x="251.5" y="182.5" width="2" height="8" fill="#1ef01e" stroke="#000"/><rect x="254.5" y="176.5" width="2" height="5" fill="#1ef01e" stroke="#000"/><rect x="257.5" y="176.5" width="2" height="3" fill="#f0301c" stroke="#000"/><line x1="261" y1="178.5" x2="264" y2="178.5" stroke="#000"/><rect x="264.5" y="178.5" width="2" height="1" fill="#f0301c" stroke="#000"/><rect x="267.5" y="170.5" width="2" height="8" fill="#1ef01e" stroke="#000"/><rect x="270.5" y="172.5" width="2" height="4" fill="#f0301c" stroke="#000"/><line x1="274" y1="177.5" x2="277" y2="177.5" stroke="#000"/><rect x="277.5" y="167.5" width="2" height="8" fill="#1ef01e" stroke="#000"/><line x1="280" y1="167.5" x2="283" y2="167.5" stroke="#000"/><rect x="283.5" y="154.5" width="2" height="13" fill="#1ef01e" stroke="#000"/><rect x="287.5" y="144.5" width="2" height="9" fill="#1ef01e" stroke="#000"/><rect x="290.5" y="140.5" width="2" height="3" fill="#1ef01e" stroke="#000"/><line x1="293" y1="138.5" x2="296" y2="138.5" stroke="#000"/><rect x="296.5" y="149.5" width="2" height="12" fill="#f0301c" stroke="#000"/><rect x="299.5" y="162.5" width="2" height="5" fill="#f0301c" stroke="#000"/><line x1="303" y1="167.5" x2="306" y2="167.5" stroke="#000"/><rect x="306.5" y="166.5" width="2" height="19" fill="#f0301c" stroke="#000"/><rect x="309.5" y="186.5" width="2" height="34" fill="#f0301c" stroke="#000"/><rect x="312.5" y="228.5" width="2" height="2" fill="#1ef01e" stroke="#000"/><rect x="316.5" y="221.5" width="2" height="5" fill="#1ef01e" stroke="#000"/><rect x="319.5" y="220.5" width="2" height="3" fill="#f0301c" stroke="#000"/><rect x="322.5" y="224.5" width="2" height="9" fill="#f0301c" stroke="#000"/><rect x="325.5" y="234.5" width="2" height="8" fill="#f0301c" stroke="#000"/><line x1="328" y1="238.5" x2="331" y2="238.5" stroke="#000"/><rect x="332.5" y="236.5" width="2" height="1" fill="#f0301c" stroke="#000"/><rect x="335.5" y="238.5" width="2" height="27" fill="#f0301c" stroke="#000"/><rect x="338.5" y="265.5" width="2" height="3" fill="#f0301c" stroke="#000"/><rect x="341.5" y="270.5" width="2" height="1" fill="#f0301c" stroke="#000"/><rect x="345.5" y="257.5" width="2" height="2" fill="#f0301c" stroke="#000"/><rect x="348.5" y="259.5" width="2" height="6" fill="#f0301c" stroke="#000"/><rect x="351.5" y="265.5" width="2" height="17" fill="#f0301c" stroke="#000"/><line x1="354" y1="284.5" x2="357" y2="284.5" stroke="#000"/><rect x="357.5" y="279.5" width="2" height="5" fill="#1ef01e" stroke="#000"/><rect x="361.5" y="283.5" width="2" height="3" fill="#f0301c" stroke="#000"/><line x1="364" y1="286.5" x2="367" y2="286.5" stroke="#000"/><rect x="367.5" y="283.5" width="2" height="2" fill="#1ef01e" stroke="#000"/><rect x="370.5" y="282.5" width="2" height="3" fill="#f0301c" stroke="#000"/><rect x="374.5" y="286.5" width="2" height="11" fill="#f0301c" stroke="#000"/><rect x="377.5" y="297.5" width="2" height="5" fill="#1ef01e" stroke="#000"/><rect x="380.5" y="296.5" width="2" height="4" fill="#f0301c" stroke="#000"/><rect x="383.5" y="301.5" width="2" height="18" fill="#f0301c" stroke="#000"/><rect x="387.5" y="320.5" width="2" height="16" fill="#f0301c" stroke="#000"/><rect x="390.5" y="329.5" width="2" height="6" fill="#1ef01e" stroke="#000"/><line x1="393" y1="325.5" x2="396" y2="325.5" stroke="#000"/><rect x="396.5" y="325.5" width="2" height="6" fill="#f0301c" stroke="#000"/><rect x="399.5" y="332.5" width="2" height="1" fill="#f0301c" stroke="#000"/><rect x="403.5" y="333.5" width="2" height="3" fill="#f0301c" stroke="#000"/><rect x="406.5" y="330.5" width="2" height="6" fill="#1ef01e" stroke="#000"/><line x1="409" y1="330.5" x2="412" y2="330.5" stroke="#000"/><rect x="412.5" y="325.5" width="2" height="4" fill="#1ef01e" stroke="#000"/><rect x="416.5" y="322.5" width="2" height="2" fill="#1ef01e" stroke="#000"/><rect x="419.5" y="301.5" width="2" height="18" fill="#1ef01e" stroke="#000"/><rect x="422.5" y="301.5" width="2" height="6" fill="#f0301c" stroke="#000"/><line x1="425" y1="308.5" x2="428" y2="308.5" stroke="#000"/><rect x="428.5" y="301.5" width="2" height="8" fill="#1ef01e" stroke="#000"/><rect x="432.5" y="296.5" width="2" height="3" fill="#1ef01e" stroke="#000"/><rect x="435.5" y="276.5" width="2" height="17" fill="#1ef01e" stroke="#000"/><rect x="438.5" y="276.5" width="2" height="7" fill="#f0301c" stroke="#000"/><rect x="441.5" y="274.5" width="2" height="7" fill="#1ef01e" stroke="#000"/><rect x="445.5" y="266.5" width="2" height="6" fill="#1ef01e" stroke="#000"/><rect x="448.5" y="262.5" width="2" height="3" fill="#1ef01e" stroke="#000"/><rect x="451.5" y="257.5" width="2" height="4" fill="#1ef01e" stroke="#000"/><rect x="454.5" y="255.5" width="2" height="2" fill="#1ef01e" stroke="#000"/><line x1="457" y1="249.5" x2="460" y2="249.5" stroke="#000"/><rect x="461.5" y="233.5" width="2" height="15" fill="#1ef01e" stroke="#000"/><rect x="464.5" y="233.5" width="2" height="14" fill="#f0301c" stroke="#000"/><line x1="467" y1="248.5" x2="470" y2="248.5" stroke="#000"/><rect x="470.5" y="242.5" width="2" height="5" fill="#1ef01e" stroke="#000"/><line x1="474" y1="231.5" x2="477" y2="231.5" stroke="#000"/><rect x="477.5" y="231.5" width="2" height="10" fill="#f0301c" stroke="#000"/><rect x="480.5" y="242.5" width="2" height="11" fill="#f0301c" stroke="#000"/><rect x="483.5" y="254.5" width="2" height="10" fill="#f0301c" stroke="#000"/><rect x="487.5" y="262.5" width="2" height="2" fill="#1ef01e" stroke="#000"/><line x1="490" y1="257.5" x2="493" y2="257.5" stroke="#000"/><rect x="493.5" y="240.5" width="2" height="17" fill="#1ef01e" stroke="#000"/><line x1="496" y1="242.5" x2="499" y2="242.5" stroke="#000"/><rect x="499.5" y="235.5" width="2" height="6" fill="#1ef01e" stroke="#000"/><rect x="503.5" y="229.5" width="2" height="5" fill="#1ef01e" stroke="#000"/><rect x="506.5" y="212.5" width="2" height="13" fill="#1ef01e" stroke="#000"/><line x1="509" y1="214.5" x2="512" y2="214.5" stroke="#000"/><rect x="512.5" y="205.5" width="2" height="8" fill="#1ef01e" stroke="#000"/><rect x="516.5" y="205.5" width="2" height="13" fill="#f0301c" stroke="#000"/><rect x="519.5" y="214.5" width="2" height="5" fill="#1ef01e" stroke="#000"/><rect x="522.5" y="217.5" width="2" height="5" fill="#f0301c" stroke="#000"/><rect x="525.5" y="221.5" width="2" height="1" fill="#1ef01e" stroke="#000"/><rect x="528.5" y="214.5" width="2" height="6" fill="#1ef01e" stroke="#000"/><rect x="532.5" y="209.5" width="2" height="4" fill="#1ef01e" stroke="#000"/><rect x="535.5" y="209.5" width="2" height="3" fill="#f0301c" stroke="#000"/><rect x="538.5" y="210.5" width="2" height="2" fill="#1ef01e" stroke="#000"/><rect x="541.5" y="210.5" width="2" height="1" fill="#f0301c" stroke="#000"/><line x1="545" y1="210.5" x2="548" y2="210.5" stroke="#000"/><rect x="548.5" y="197.5" width="2" height="12" fill="#1ef01e" stroke="#000"/><rect x="551.5" y="189.5" width="2" height="7" fill="#1ef01e" stroke="#000"/><rect x="554.5" y="188.5" width="2" height="5" fill="#f0301c" stroke="#000"/><rect x="557.5" y="194.5" width="2" height="3" fill="#f0301c" stroke="#000"/><rect x="561.5" y="196.5" width="2" height="1" fill="#1ef01e" stroke="#000"/><rect x="564.5" y="196.5" width="2" height="16" fill="#f0301c" stroke="#000"/><line x1="567" y1="213.5" x2="570" y2="213.5" stroke="#000"/><rect x="570.5" y="214.5" width="2" height="8" fill="#f0301c" stroke="#000"/><rect x="574.5" y="223.5" width="2" height="10" fill="#f0301c" stroke="#000"/><rect x="577.5" y="234.5" width="2" height="9" fill="#f0301c" stroke="#000"/><rect x="580.5" y="243.5" width="2" height="6" fill="#f0301c" stroke="#000"/><line x1="583" y1="248.5" x2="586" y2="248.5" stroke="#000"/><line x1="587" y1="248.5" x2="590" y2="248.5" stroke="#000"/><line x1="590" y1="248.5" x2="593" y2="248.5" stroke="#000"/><rect x="593.5" y="230.5" width="2" height="17" fill="#1ef01e" stroke="#000"/><rect x="596.5" y="221.5" width="2" height="8" fill="#1ef01e" stroke="#000"/><rect x="599.5" y="219.5" width="2" height="2" fill="#1ef01e" stroke="#000"/><line x1="603" y1="214.5" x2="606" y2="214.5" stroke="#000"/><rect x="606.5" y="200.5" width="2" height="13" fill="#1ef01e" stroke="#000"/><line x1="609" y1="200.5" x2="612" y2="200.5" stroke="#000"/><rect x="612.5" y="200.5" width="2" height="1" fill="#f0301c" stroke="#000"/><line x1="616" y1="201.5" x2="619" y2="201.5" stroke="#000"/><line x1="619" y1="191.5" x2="622" y2="191.5" stroke="#000"/><line x1="622" y1="193.5" x2="625" y2="193.5" stroke="#000"/><line x1="625" y1="193.5" x2="628" y2="193.5" stroke="#000"/><rect x="628.5" y="194.5" width="2" height="5" fill="#f0301c" stroke="#000"/><rect x="632.5" y="199.5" width="2" height="3" fill="#1ef01e" stroke="#000"/><rect x="635.5" y="195.5" width="2" height="3" fill="#1ef01e" stroke="#000"/><rect x="638.5" y="192.5" width="2" height="2" fill="#1ef01e" stroke="#000"/><line x1="641" y1="189.5" x2="644" y2="189.5" stroke="#000"/><rect x="645.5" y="191.5" width="2" height="3" fill="#f0301c" stroke="#000"/><rect x="648.5" y="193.5" width="2" height="1" fill="#f0301c" stroke="#000"/><line x1="651" y1="192.5" x2="654" y2="192.5" stroke="#000"/><rect x="654.5" y="171.5" width="2" height="18" fill="#1ef01e" stroke="#000"/><rect x="657.5" y="156.5" width="2" height="14" fill="#1ef01e" stroke="#000"/><rect x="661.5" y="155.5" width="2" height="1" fill="#1ef01e" stroke="#000"/><rect x="664.5" y="152.5" width="2" height="2" fill="#1ef01e" stroke="#000"/><rect x="667.5" y="150.5" width="2" height="1" fill="#1ef01e" stroke="#000"/><rect x="670.5" y="150.5" width="2" height="4" fill="#f0301c" stroke="#000"/><rect x="674.5" y="155.5" width="2" height="4" fill="#f0301c" stroke="#000"/><line x1="677" y1="159.5" x2="680" y2="159.5" stroke="#000"/><rect x="680.5" y="158.5" width="2" height="2" fill="#1ef01e" stroke="#000"/><rect x="683.5" y="158.5" width="2" height="6" fill="#f0301c" stroke="#000"/><rect x="687.5" y="165.5" width="2" height="4" fill="#f0301c" stroke="#000"/><rect x="690.5" y="176.5" width="2" height="1" fill="#1ef01e" stroke="#000"/><rect x="693.5" y="177.5" width="2" height="3" fill="#f0301c" stroke="#000"/><rect x="696.5" y="181.5" width="2" height="2" fill="#f0301c" stroke="#000"/><rect x="699.5" y="184.5" width="2" height="4" fill="#f0301c" stroke="#000"/><rect x="703.5" y="189.5" width="2" height="5" fill="#f0301c" stroke="#000"/><rect x="706.5" y="193.5" width="2" height="16" fill="#f0301c" stroke="#000"/><rect x="709.5" y="213.5" width="2" height="8" fill="#f0301c" stroke="#000"/><line x1="712" y1="221.5" x2="715" y2="221.5" stroke="#000"/><rect x="716.5" y="217.5" width="2" height="3" fill="#1ef01e" stroke="#000"/><rect x="719.5" y="224.5" width="2" height="3" fill="#f0301c" stroke="#000"/><rect x="722.5" y="228.5" width="2" height="1" fill="#f0301c" stroke="#000"/><rect x="725.5" y="223.5" width="2" height="6" fill="#1ef01e" stroke="#000"/><rect x="728.5" y="219.5" width="2" height="3" fill="#1ef01e" stroke="#000"/><rect x="732.5" y="216.5" width="2" height="2" fill="#1ef01e" stroke="#000"/><rect x="735.5" y="212.5" width="2" height="2" fill="#1ef01e" stroke="#000"/><rect x="738.5" y="184.5" width="2" height="22" fill="#1ef01e" stroke="#000"/><rect x="741.5" y="184.5" width="2" height="9" fill="#f0301c" stroke="#000"/><rect x="745.5" y="194.5" width="2" height="3" fill="#f0301c" stroke="#000"/><rect x="748.5" y="184.5" width="2" height="4" fill="#f0301c" stroke="#000"/><rect x="751.5" y="189.5" width="2" height="2" fill="#f0301c" stroke="#000"/><rect x="754.5" y="187.5" width="2" height="3" fill="#1ef01e" stroke="#000"/><line x1="757" y1="187.5" x2="760" y2="187.5" stroke="#000"/><rect x="761.5" y="178.5" width="2" height="8" fill="#1ef01e" stroke="#000"/><line x1="764" y1="178.5" x2="767" y2="178.5" stroke="#000"/><line x1="767" y1="178.5" x2="770" y2="178.5" stroke="#000"/><line x1="770" y1="180.5" x2="773" y2="180.5" stroke="#000"/><line x1="774" y1="179.5" x2="777" y2="179.5" stroke="#000"/><rect x="777.5" y="170.5" width="2" height="7" fill="#1ef01e" stroke="#000"/><rect x="780.5" y="167.5" width="2" height="2" fill="#1ef01e" stroke="#000"/><rect x="783.5" y="151.5" width="2" height="12" fill="#1ef01e" stroke="#000"/><line x1="787" y1="149.5" x2="790" y2="149.5" stroke="#000"/><rect x="790.5" y="156.5" width="2" height="8" fill="#f0301c" stroke="#000"/><rect x="793.5" y="163.5" width="2" height="13" fill="#f0301c" stroke="#000"/><rect x="796.5" y="175.5" width="2" height="2" fill="#f0301c" stroke="#000"/><line x1="799" y1="179.5" x2="802" y2="179.5" stroke="#000"/><rect x="803.5" y="179.5" width="2" height="6" fill="#f0301c" stroke="#000"/><rect x="806.5" y="186.5" width="2" height="4" fill="#f0301c" stroke="#000"/><line x1="809" y1="192.5" x2="812" y2="192.5" stroke="#000"/><rect x="812.5" y="194.5" width="2" height="8" fill="#f0301c" stroke="#000"/><line x1="816" y1="203.5" x2="819" y2="203.5" stroke="#000"/><rect x="819.5" y="200.5" width="2" height="2" fill="#1ef01e" stroke="#000"/><rect x="822.5" y="196.5" width="2" height="3" fill="#1ef01e" stroke="#000"/><rect x="825.5" y="191.5" width="2" height="4" fill="#1ef01e" stroke="#000"/><rect x="828.5" y="192.5" width="2" height="11" fill="#f0301c" stroke="#000"/><rect x="832.5" y="198.5" width="2" height="5" fill="#1ef01e" stroke="#000"/><rect x="835.5" y="197.5" width="2" height="2" fill="#1ef01e" stroke="#000"/><rect x="838.5" y="197.5" width="2" height="4" fill="#f0301c" stroke="#000"/><rect x="841.5" y="202.5" width="2" height="2" fill="#f0301c" stroke="#000"/><rect x="845.5" y="207.5" width="2" height="21" fill="#f0301c" stroke="#000"/><rect x="848.5" y="225.5" width="2" height="2" fill="#1ef01e" stroke="#000"/><rect x="851.5" y="225.5" width="2" height="1" fill="#f0301c" stroke="#000"/><rect x="854.5" y="220.5" width="2" height="5" fill="#f0301c" stroke="#000"/><rect x="857.5" y="229.5" width="2" height="9" fill="#f0301c" stroke="#000"/><rect x="861.5" y="239.5" width="2" height="1" fill="#f0301c" stroke="#000"/><rect x="864.5" y="233.5" width="2" height="2" fill="#1ef01e" stroke="#000"/><line x1="867" y1="232.5" x2="870" y2="232.5" stroke="#000"/><rect x="870.5" y="231.5" width="2" height="1" fill="#f0301c" stroke="#000"/><rect x="874.5" y="220.5" width="2" height="11" fill="#1ef01e" stroke="#000"/><rect x="877.5" y="216.5" width="2" height="2" fill="#1ef01e" stroke="#000"/><rect x="880.5" y="212.5" width="2" height="2" fill="#1ef01e" stroke="#000"/><rect x="883.5" y="205.5" width="2" height="2" fill="#1ef01e" stroke="#000"/><rect x="887.5" y="204.5" width="2" height="1" fill="#1ef01e" stroke="#000"/><rect x="890.5" y="192.5" width="2" height="9" fill="#1ef01e" stroke="#000"/><line x1="893" y1="189.5" x2="896" y2="189.5" stroke="#000"/><line x1="896" y1="189.5" x2="899" y2="189.5" stroke="#000"/>
<line x1="9" y1="64.5" x2="18" y2="64.5" stroke="#000"/>
<line x1="383" y1="344.5" x2="392" y2="344.5" stroke="#000"/>
<text x="9.3" y="59.7" fill="#a0a0a0" font-size="10.67" text-anchor="start" font-weight="normal">1.375,085</text>
<text x="363.8" y="357.7" fill="#a0a0a0" font-size="10.67" text-anchor="start" font-weight="normal">1.123,155</text>
<rect x="2.5" y="30.5" width="896.0" height="371.0" fill="none" stroke="#c8cfc8"/>
<text x="902" y="44" fill="#000" font-size="10.67" text-anchor="start" font-weight="normal">1.400</text>
<text x="902" y="63.9" fill="#000" font-size="10.67" text-anchor="start" font-weight="normal">1.380</text>
<text x="902" y="83.9" fill="#000" font-size="10.67" text-anchor="start" font-weight="normal">1.360</text>
<text x="902" y="104.3" fill="#000" font-size="10.67" text-anchor="start" font-weight="normal">1.340</text>
<text x="902" y="125" fill="#000" font-size="10.67" text-anchor="start" font-weight="normal">1.320</text>
<text x="902" y="146" fill="#000" font-size="10.67" text-anchor="start" font-weight="normal">1.300</text>
<text x="902" y="167.4" fill="#000" font-size="10.67" text-anchor="start" font-weight="normal">1.280</text>
<text x="902" y="189.1" fill="#000" font-size="10.67" text-anchor="start" font-weight="normal">1.260</text>
<text x="902" y="211.1" fill="#000" font-size="10.67" text-anchor="start" font-weight="normal">1.240</text>
<text x="902" y="233.5" fill="#000" font-size="10.67" text-anchor="start" font-weight="normal">1.220</text>
<text x="902" y="256.2" fill="#000" font-size="10.67" text-anchor="start" font-weight="normal">1.200</text>
<text x="902" y="279.3" fill="#000" font-size="10.67" text-anchor="start" font-weight="normal">1.180</text>
<text x="902" y="302.9" fill="#000" font-size="10.67" text-anchor="start" font-weight="normal">1.160</text>
<text x="902" y="326.8" fill="#000" font-size="10.67" text-anchor="start" font-weight="normal">1.140</text>
<text x="902" y="351.2" fill="#000" font-size="10.67" text-anchor="start" font-weight="normal">1.120</text>
<text x="902" y="376" fill="#000" font-size="10.67" text-anchor="start" font-weight="normal">1.100</text>
<text x="71.5" y="413.2" fill="#000" font-size="10.67" text-anchor="middle" font-weight="normal">Aug.</text>
<text x="145.5" y="413.2" fill="#000" font-size="10.67" text-anchor="middle" font-weight="normal">Sep.</text>
<text x="216.5" y="413.2" fill="#000" font-size="10.67" text-anchor="middle" font-weight="normal">Okt.</text>
<text x="284.5" y="413.2" fill="#000" font-size="10.67" text-anchor="middle" font-weight="normal">Nov.</text>
<text x="355.5" y="413.2" fill="#000" font-size="10.67" text-anchor="middle" font-weight="normal">Dez.</text>
<text x="426.5" y="413.2" fill="#000" font-size="10.67" text-anchor="middle" font-weight="normal">Jan.</text>
<text x="497.5" y="413.2" fill="#000" font-size="10.67" text-anchor="middle" font-weight="normal">Feb.</text>
<text x="561.5" y="413.2" fill="#000" font-size="10.67" text-anchor="middle" font-weight="normal">März</text>
<text x="635.5" y="413.2" fill="#000" font-size="10.67" text-anchor="middle" font-weight="normal">April</text>
<text x="700.5" y="413.2" fill="#000" font-size="10.67" text-anchor="middle" font-weight="normal">Mai</text>
<text x="774.5" y="413.2" fill="#000" font-size="10.67" text-anchor="middle" font-weight="normal">Juni</text>
<text x="845.5" y="413.2" fill="#000" font-size="10.67" text-anchor="middle" font-weight="normal">Juli</text>
<line x1="283" y1="251.4" x2="901.5" y2="251.4" stroke="#000" stroke-width="4.6" stroke-linecap="round"/><polyline points="585.5,254.5 667.4,150 724,230.6 791.6,149 863.8,239" fill="none" stroke="#ed1c24" stroke-width="5.2" stroke-linejoin="round" stroke-linecap="round"/><polyline points="673,142.5 726,217.3 792.5,135.9 866.1,227.7 893.8,182.8" fill="none" stroke="#22b14c" stroke-width="5.2" stroke-linejoin="round" stroke-linecap="round"/><g stroke="#22b14c" stroke-width="4.3" stroke-linecap="round" stroke-linejoin="round" fill="none"><line x1="903.2" y1="171.6" x2="920.4" y2="144.7"/><line x1="936.9" y1="123.3" x2="960.1" y2="86.7"/><line x1="969.3" y1="73.8" x2="991.9" y2="32.8"/><polyline points="954.6,51.2 991.9,32.8 998,72"/></g><g stroke="#ed1c24" stroke-width="4.3" stroke-linecap="round" stroke-linejoin="round" fill="none"><line x1="867.3" y1="246.5" x2="878.2" y2="258"/><line x1="885.7" y1="266.6" x2="900.1" y2="285.1"/><polyline points="876.5,278.1 900.1,285.6 901.5,261.5"/></g><text x="777" y="294.9" fill="#ed1c24" font-size="16.4" font-weight="bold">Satz mit x</text>
<rect x="3.5" y="424.5" width="7" height="7" fill="#66d066" stroke="#000"/>
<text x="15.3" y="431.5" fill="#000" font-size="10.67" text-anchor="start" font-weight="normal">Goldpreis Volumen</text>
<rect x="2.5" y="437.5" width="896.0" height="80.0" fill="none" stroke="#c8cfc8"/>
<text x="450.5" y="481.7" fill="#000" font-size="12.75" text-anchor="middle" font-weight="normal" letter-spacing="0.08">keine Volumendaten vorhanden</text>
<rect x="3.5" y="528.5" width="7" height="7" fill="#0000ff" stroke="#000"/>
<text x="15.3" y="535.5" fill="#000" font-size="10.67" text-anchor="start" font-weight="normal" letter-spacing="0.07">MACD (26, 12): 1,1512</text>
<rect x="149.5" y="528.5" width="7" height="7" fill="#ff00ff" stroke="#000"/>
<text x="161.3" y="535.5" fill="#000" font-size="10.67" text-anchor="start" font-weight="normal">EXP (9): -3,7264</text>
<rect x="264.5" y="528.5" width="7" height="7" fill="#007000" stroke="#000"/>
<text x="276.3" y="535.5" fill="#000" font-size="10.67" text-anchor="start" font-weight="normal" letter-spacing="0.1">Divergence: 4,8776</text>
<line x1="2.5" y1="571.5" x2="898.5" y2="571.5" stroke="#c8cfc8" stroke-width="1"/>
<line x1="2.5" y1="630.5" x2="898.5" y2="630.5" stroke="#c8cfc8" stroke-width="1"/>
<line x1="71.5" y1="542" x2="71.5" y2="660" stroke="#fcdcfc" stroke-width="1"/>
<line x1="71.5" y1="542" x2="71.5" y2="660" stroke="#c8cfc8" stroke-width="1" stroke-dasharray="3,1"/>
<line x1="145.5" y1="542" x2="145.5" y2="660" stroke="#fcdcfc" stroke-width="1"/>
<line x1="145.5" y1="542" x2="145.5" y2="660" stroke="#c8cfc8" stroke-width="1" stroke-dasharray="3,1"/>
<line x1="216.5" y1="542" x2="216.5" y2="660" stroke="#fcdcfc" stroke-width="1"/>
<line x1="216.5" y1="542" x2="216.5" y2="660" stroke="#c8cfc8" stroke-width="1" stroke-dasharray="3,1"/>
<line x1="284.5" y1="542" x2="284.5" y2="660" stroke="#fcdcfc" stroke-width="1"/>
<line x1="284.5" y1="542" x2="284.5" y2="660" stroke="#c8cfc8" stroke-width="1" stroke-dasharray="3,1"/>
<line x1="355.5" y1="542" x2="355.5" y2="660" stroke="#fcdcfc" stroke-width="1"/>
<line x1="355.5" y1="542" x2="355.5" y2="660" stroke="#c8cfc8" stroke-width="1" stroke-dasharray="3,1"/>
<line x1="426.5" y1="542" x2="426.5" y2="660" stroke="#fcdcfc" stroke-width="1"/>
<line x1="426.5" y1="542" x2="426.5" y2="660" stroke="#c8cfc8" stroke-width="1" stroke-dasharray="3,1"/>
<line x1="497.5" y1="542" x2="497.5" y2="660" stroke="#fcdcfc" stroke-width="1"/>
<line x1="497.5" y1="542" x2="497.5" y2="660" stroke="#c8cfc8" stroke-width="1" stroke-dasharray="3,1"/>
<line x1="561.5" y1="542" x2="561.5" y2="660" stroke="#fcdcfc" stroke-width="1"/>
<line x1="561.5" y1="542" x2="561.5" y2="660" stroke="#c8cfc8" stroke-width="1" stroke-dasharray="3,1"/>
<line x1="635.5" y1="542" x2="635.5" y2="660" stroke="#fcdcfc" stroke-width="1"/>
<line x1="635.5" y1="542" x2="635.5" y2="660" stroke="#c8cfc8" stroke-width="1" stroke-dasharray="3,1"/>
<line x1="700.5" y1="542" x2="700.5" y2="660" stroke="#fcdcfc" stroke-width="1"/>
<line x1="700.5" y1="542" x2="700.5" y2="660" stroke="#c8cfc8" stroke-width="1" stroke-dasharray="3,1"/>
<line x1="774.5" y1="542" x2="774.5" y2="660" stroke="#fcdcfc" stroke-width="1"/>
<line x1="774.5" y1="542" x2="774.5" y2="660" stroke="#c8cfc8" stroke-width="1" stroke-dasharray="3,1"/>
<line x1="845.5" y1="542" x2="845.5" y2="660" stroke="#fcdcfc" stroke-width="1"/>
<line x1="845.5" y1="542" x2="845.5" y2="660" stroke="#c8cfc8" stroke-width="1" stroke-dasharray="3,1"/>
<path d="M4 601.5V592.2 M7 601.5V591.4 M10 601.5V591.2 M13 601.5V590.3 M17 601.5V591.2 M20 601.5V592.4 M23 601.5V594.3 M26 601.5V599.2 M29 600.5V601.7 M33 601V603.3 M36 601V604.3 M39 601V606.2 M42 601V607.4 M46 601V609.3 M49 601V609.3 M52 601V609.5 M55 601V610.3 M58 601V609 M62 601V607.4 M65 601V606.2 M68 601V603.3 M71 601V602.5 M75 601.5V600.5 M78 601.5V599.4 M81 601.5V599.4 M84 600.5V601.7 M88 601V603.3 M91 601V603.1 M94 601V603.1 M97 601V604.3 M100 601V604.3 M104 601V604.1 M107 601V603.1 M110 601V602.8 M113 601V602.3 M117 601V602.1 M120 601V603.1 M123 601V603.5 M126 601V605.4 M129 601V606.2 M133 601V606.2 M136 601V606.2 M139 601V607.2 M142 601V607.4 M146 601V607.9 M149 601V605.4 M152 601V603.5 M155 601.5V600.7 M158 601.5V598.4 M162 601.5V598.4 M165 601.5V599.4 M168 601.5V600.5 M171 600.5V601.7 M175 600.5V601.7 M178 601V603.1 M181 601V603.1 M184 601V603.1 M188 601V603.1 M191 600.5V601.7 M194 601.5V599.4 M197 601.5V598.4 M200 601.5V597.4 M204 601.5V598.4 M207 601.5V599.4 M210 601.5V600.5 M213 600.5V601.7 M217 601V602.5 M220 601V606.9 M223 601V609.3 M226 601V612.4 M229 601V612.4 M233 601V612.4 M236 601V611.3 M239 601V610.5 M242 601V608.2 M246 601V607.4 M249 601V606.2 M252 601V603.5 M255 600.5V601.7 M258 601.5V600.5 M262 601.5V598.4 M265 601.5V598.4 M268 601.5V596.3 M271 601.5V596.3 M275 601.5V596.3 M278 601.5V595.3 M281 601.5V595.3 M284 601.5V593.2 M288 601.5V592.4 M291 601.5V591.2 M294 601.5V590.3 M297 601.5V593.2 M300 601.5V595.3 M304 601.5V597.4 M307 601.5V600.7 M310 601V604.8 M313 601V607.4 M317 601V608.4 M320 601V609.5 M323 601V610.5 M326 601V610.5 M329 601V609.5 M333 601V608.4 M336 601V609.5 M339 601V610.5 M342 601V609.3 M346 601V607.4 M349 601V606.2 M352 601V606.2 M355 601V606.4 M358 601V604.5 M362 601V604.5 M365 601V603.3 M368 600.5V601.7 M371 601.5V600.5 M375 601.5V600.5 M378 601.5V600.5 M381 600.5V601.7 M384 600.5V601.7 M388 601V603.3 M391 601V603.3 M394 601V602.3 M397 601V602.3 M400 600.5V601.7 M404 600.5V601.7 M407 601.5V600.5 M410 601.5V599.4 M413 601.5V597.4 M417 601.5V596.3 M420 601.5V594.3 M423 601.5V593.4 M426 601.5V592.4 M429 601.5V592.4 M433 601.5V591.2 M436 601.5V589.3 M439 601.5V589.3 M442 601.5V589.3 M446 601.5V588.3 M449 601.5V588.3 M452 601.5V589.3 M455 601.5V589.3 M458 601.5V589.3 M462 601.5V589.3 M465 601.5V590.3 M468 601.5V592.4 M471 601.5V593.2 M475 601.5V593.2 M478 601.5V595.3 M481 601.5V597.4 M484 601.5V600.5 M488 600.5V601.7 M491 601V602.3 M494 600.5V601.7 M497 600.5V601.7 M500 601.5V600.5 M504 601.5V599.4 M507 601.5V597.4 M510 601.5V597.4 M513 601.5V596.3 M517 601.5V597.4 M520 601.5V598.4 M523 601.5V599.4 M526 601.5V600.5 M529 601.5V600.5 M533 601.5V600.5 M536 601.5V600.5 M539 600.5V601.7 M542 600.5V601.7 M546 600.5V601.7 M549 600.5V601.7 M552 601.5V599.4 M555 601.5V599.4 M558 601.5V600.5 M562 601.5V600.7 M565 601V602.3 M568 601V604.3 M571 601V605.4 M575 601V607.4 M578 601V609.3 M581 601V610.3 M584 601V610.5 M588 601V610.5 M591 601V610.5 M594 601V606.4 M597 601V603.8 M600 601V602.8 M604 600.5V601.7 M607 601.5V598.4 M610 601.5V596.3 M613 601.5V596.3 M617 601.5V596.3 M620 601.5V596.3 M623 601.5V596.3 M626 601.5V596.3 M629 601.5V598.4 M633 601.5V598.4 M636 601.5V598.4 M639 601.5V598.4 M642 601.5V598.4 M646 601.5V599.4 M649 601.5V599.4 M652 601.5V600.7 M655 601.5V598.4 M658 601.5V596.3 M662 601.5V595.3 M665 601.5V595.3 M668 601.5V596.3 M671 601.5V596.3 M675 601.5V598.4 M678 601.5V599.4 M681 601.5V599.4 M684 600.5V601.7 M688 601V603.3 M691 601V604.3 M694 601V605.4 M697 601V605.4 M700 601V606.2 M704 601V607.4 M707 601V608.4 M710 601V610.5 M713 601V611.3 M717 601V611.3 M720 601V611.3 M723 601V611.3 M726 601V609 M729 601V606.4 M733 601V605.8 M736 601V604.6 M739 600.5V601.7 M742 601.5V599.7 M746 601.5V597.9 M749 601.5V596.7 M752 601.5V596.7 M755 601.5V596.7 M758 601.5V596.1 M762 601.5V595.5 M765 601.5V595.5 M768 601.5V596.1 M771 601.5V596.1 M775 601.5V596.7 M778 601.5V596.1 M781 601.5V595.5 M784 601.5V595.5 M788 601.5V596.1 M791 601.5V596.7 M794 601.5V598.5 M797 601.5V600.7 M800 600.5V601.7 M804 601V601.8 M807 601V604 M810 601V605.8 M813 601V607 M817 601V607.6 M820 601V606.7 M823 601V606.4 M826 601V605 M829 601V605 M833 601V604.6 M836 601V604 M839 601V604 M842 601V604.6 M846 601V605.2 M849 601V605.8 M852 601V605.8 M855 601V606.4 M858 601V606.4 M862 601V606.4 M865 601V605.2 M868 601V604.3 M871 601V603 M875 600.5V601.7 M878 601.5V599.7 M881 601.5V598.5 M884 601.5V596.7 M888 601.5V596.1 M891 601.5V594.9 M894 601.5V594.3 M897 601.5V593.7" stroke="#007000" stroke-width="2" fill="none"/>
<path d="M4 579.9C6.9 577.8 7.2 577.6 12.7 573.6C18.2 569.6 15.3 570.5 20.6 568C25.9 565.5 23.3 566.1 28.6 566.1C33.9 566.1 30.7 565.5 36.5 568C42.3 570.5 39.7 569.6 46 573.6C52.3 577.6 49.2 576.2 55.5 579.9C61.8 583.6 59.2 582.9 65 584.7C70.8 586.5 67.2 585.4 73 585.4C78.8 585.4 75.1 584.2 82.5 584.7C89.9 585.2 85.7 584.9 95.2 587C104.7 589.1 101.5 588.9 111 591C120.5 593.1 115.8 591 123.7 593.4C131.6 595.8 127.4 594.9 134.8 598.1C142.2 601.3 140.1 600.6 145.9 602.9C151.7 605.2 145.4 605 152.3 605C159.2 605 156.6 602.9 166.6 602.9C176.6 602.9 174.5 604.2 182.4 605C190.3 605.8 184.6 605.7 190.4 605.3C196.2 604.9 193 604.5 199.9 603.7C206.8 602.9 204.7 602.4 211 602.9C217.3 603.4 214.2 603.4 218.9 605.3C223.6 607.2 219.8 604.8 225 608.5C230.2 612.2 228.2 611.4 234.5 616.4C240.8 621.4 237.6 620.1 244 623.5C250.4 626.9 246.7 626.2 253.6 626.7C260.5 627.2 257.3 627 264.7 625.1C272.1 623.2 269.5 623.5 275.8 621.1C282.1 618.7 277.9 621.2 283.7 618C289.5 614.8 286.9 615.6 293.2 611.6C299.5 607.6 297.9 608.2 302.7 606.1C307.5 604 303.8 604.5 307.5 605.3C311.2 606.1 308.5 605.3 313.8 608.5C319.1 611.7 315.9 609.5 323.3 614.8C330.7 620.1 327.5 618.7 336 624.3C344.5 629.9 340.8 627.9 348.7 631.5C356.6 635.1 352.4 633.4 359.8 635.1C367.2 636.8 363 636.2 370.9 636.7C378.8 637.2 374.1 636.3 383.6 636.7C393.1 637.1 390 638 399.5 637.8C409 637.6 404.3 638.3 412.2 636.2C420.1 634.1 415.9 636 423.3 631.5C430.7 627 426.5 629.3 434.4 622.7C442.3 616.1 440.2 617.7 447.1 611.6C454 605.5 450.9 608.5 455 604.5C459.1 600.5 454.3 603.9 459.5 599.7C464.7 595.5 463.2 595.9 470.6 591.8C478 587.7 474.3 588.9 481.7 587.5C489.1 586.1 484.9 587.9 492.8 587.5C500.7 587.1 497.6 587.7 505.5 586.2C513.4 584.7 508.7 584.4 516.6 583.1C524.5 581.8 519.8 582.4 529.3 582.3C538.8 582.2 534.6 582.8 545.2 582.8C555.8 582.8 552 581.4 561 582.3C570 583.2 564.2 581.4 572.1 585.4C580 589.4 576.9 589.2 584.8 594.2C592.7 599.2 589.5 598.1 595.9 600.5C602.3 602.9 597.5 602.4 603.9 601.3C610.3 600.2 607.1 599.9 615 597.3C622.9 594.7 619.2 595.4 627.7 593.4C636.2 591.4 632 592.5 640.4 591.3C648.8 590.1 644.6 591.5 653 589.7C661.4 587.9 656.7 588.4 665.7 585.9C674.7 583.4 673.7 583.2 680 582.3C686.3 581.4 679.8 582.1 684.5 583.1C689.2 584.1 687.6 583.3 694 585.4C700.4 587.5 696.7 585.2 703.6 589.4C710.5 593.6 707.3 592.3 714.7 598.1C722.1 603.9 718.9 602.9 725.8 606.9C732.7 610.9 728.4 609.5 735.3 610C742.2 610.5 738.5 610.3 746.4 608.5C754.3 606.7 751.2 607.2 759.1 604.5C767 601.8 762.3 603.5 770.2 600.5C778.1 597.5 775 598.5 782.9 595.4C790.8 592.3 786.6 592.2 794 591.3C801.4 590.4 797.2 590.6 805.1 592.6C813 594.6 809.3 594.1 817.8 597.3C826.3 600.5 822.1 599.5 830.5 602.1C838.9 604.7 834.7 602.4 843.1 605C851.5 607.6 847.3 606.8 855.8 610C864.3 613.2 860 613.4 868.5 614.5C877 615.6 871.9 615.9 881.2 613.2C890.5 610.5 891.3 608.7 896.3 606.5" fill="none" stroke="#ff20ff" stroke-width="1.2"/>
<path d="M3.2 572.8C6.4 569.6 6.9 567.4 12.7 563.2C18.5 559 15.3 559.3 20.6 560.1C25.9 560.9 23.3 561.6 28.6 565.6C33.9 569.6 30.7 566.7 36.5 572C42.3 577.3 40.7 576.8 46 581.5C51.3 586.2 48.1 583 52.3 586.2C56.5 589.4 54.5 589.7 58.7 591C62.9 592.3 60.2 591.8 65 590.2C69.8 588.6 67.7 588.6 73 586.2C78.3 583.8 75.6 582.6 80.9 583.1C86.2 583.6 84 585.7 88.8 587.8C93.6 589.9 90.4 587.8 95.2 589.4C100 591 97.3 591.5 103.1 592.6C108.9 593.7 106.3 591.5 112.6 592.6C118.9 593.7 116.3 593.2 122.1 595.8C127.9 598.4 124.8 597.6 130.1 600.5C135.4 603.4 132.7 601.6 138 604.5C143.3 607.4 141.1 608.1 145.9 609.2C150.7 610.3 148.1 610.1 152.3 607.7C156.5 605.3 153.8 604 158.6 602.1C163.4 600.2 161.3 601.6 166.6 602.1C171.9 602.6 169.2 602.1 174.5 603.7C179.8 605.3 178.2 605.6 182.4 606.9C186.6 608.2 183.5 608.8 187.2 607.7C190.9 606.6 188.7 606.1 193.5 603.7C198.3 601.3 196.2 601 201.5 600.5C206.8 600 204.7 600.8 209.4 602.1C214.1 603.4 211.5 600.3 215.7 604.5C219.9 608.7 219 610 222.1 614.8C225.2 619.6 221.9 615.6 225 618.8C228.1 622 226.5 620.6 231.3 624.3C236.1 628 234 627.5 239.3 629.9C244.6 632.3 241.9 632.6 247.2 631.5C252.5 630.4 249.8 629.6 255.1 626.7C260.4 623.8 257.8 625.3 263.1 622.7C268.4 620.1 265.2 622 271 618.8C276.8 615.6 274.7 617.7 280.5 613.2C286.3 608.7 283.7 609.5 288.5 605.3C293.3 601.1 290.1 601.8 294.8 600.5C299.5 599.2 298.5 599.7 302.7 601.3C306.9 602.9 303.8 600.3 307.5 605.3C311.2 610.3 309.6 610.9 313.8 616.4C318 621.9 316 618.5 320.2 621.9C324.4 625.3 322.3 624.3 326.5 626.7C330.7 629.1 327.6 625.8 332.9 629.1C338.2 632.4 337.1 634.2 342.4 636.7C347.7 639.2 344.5 636 348.7 636.7C352.9 637.4 349.8 638.4 355.1 638.9C360.4 639.4 358.8 639.2 364.6 638.3C370.4 637.4 367.2 637.1 372.5 636.2C377.8 635.3 374.7 634.8 380.5 635.7C386.3 636.6 383.7 637.9 390 638.9C396.3 639.9 393.7 639.3 399.5 638.6C405.3 637.9 402.1 638.8 407.4 636.7C412.7 634.6 410.6 635.8 415.4 632.2C420.2 628.6 416.4 630.9 421.7 625.9C427 620.9 425.9 622.5 431.2 617.2C436.5 611.9 432.3 615.6 437.6 610C442.9 604.4 443 605 447.1 600.5C451.2 596 446.9 599.5 450 596.6C453.1 593.7 452.1 595.1 456.3 591.8C460.5 588.5 457.9 589.1 462.7 586.6C467.5 584.1 466.1 585.7 470.6 584.3C475.1 582.9 472.5 582.4 476.2 582.3C479.9 582.2 477.2 581.6 481.7 583.9C486.2 586.2 484.4 587.7 489.7 589.1C495 590.5 492.9 588.9 497.6 588.1C502.3 587.3 498.6 589.1 503.9 586.6C509.2 584.1 508.2 582.7 513.5 580.7C518.8 578.7 515.6 580.2 519.8 580.7C524 581.2 520.8 581.8 526.1 582.3C531.4 582.8 529.3 581.8 535.7 582.3C542.1 582.8 539.4 584.2 545.2 583.9C551 583.6 547.8 582 553.1 581.5C558.4 581 555.2 580.2 561 582.3C566.8 584.4 564.2 582.3 570.6 587.8C577 593.3 573.2 592.3 580.1 598.9C587 605.5 584.9 606.1 591.2 607.7C597.5 609.3 593.3 606.9 599.1 603.7C604.9 600.5 602.3 601.5 608.6 598.1C614.9 594.7 612.3 596 618.1 593.4C623.9 590.8 620.8 591.3 626.1 590.2C631.4 589.1 628.7 590.6 634 590.2C639.3 589.8 636.1 589.1 641.9 589.1C647.7 589.1 645.1 592.2 651.5 590.2C657.9 588.2 654.7 586.8 661 583.1C667.3 579.4 665.8 580.1 670.5 579.1C675.2 578.1 671.9 579.7 675 580.2C678.1 580.7 675.6 578.6 679.8 580.7C684 582.8 682.4 583.2 687.7 586.6C693 590 690.3 587.9 695.6 591C700.9 594.1 698.3 591.6 703.6 595.8C708.9 600 705.7 598.2 711.5 603.7C717.3 609.2 715.7 608.6 721 612.4C726.3 616.2 723.1 614.4 727.3 615.1C731.5 615.8 730 616.1 733.7 614.5C737.4 612.9 733.2 614.1 738.5 610.4C743.8 606.7 743.3 606.6 749.6 603.4C755.9 600.2 752.2 603.1 757.5 600.8C762.8 598.5 760.1 598.8 765.4 596.6C770.7 594.4 768.1 596.2 773.4 594.2C778.7 592.2 776.6 593 781.3 590.7C786 588.4 783.4 587.8 787.6 587.4C791.8 587 789.2 587.4 794 589.4C798.8 591.4 796.6 590.8 801.9 593.4C807.2 596 804.5 593.9 809.8 597.3C815.1 600.7 812.5 601.3 817.8 603.7C823.1 606.1 820.4 603.7 825.7 604.5C831 605.3 828.3 605.3 833.6 606.1C838.9 606.9 836.3 604.8 841.6 606.9C846.9 609 844.2 609.8 849.5 612.4C854.8 615 852.1 613.2 857.4 614.8C862.7 616.4 860.6 616.6 865.4 617.2C870.2 617.8 866.4 619.1 871.7 616.7C877 614.3 875.4 614.1 881.2 610C887 605.9 884.1 608.1 889.1 604.5C894.1 600.9 893.9 601 896.3 599.3" fill="none" stroke="#2020ff" stroke-width="1.2"/>
<rect x="2.5" y="541.5" width="896.0" height="119.0" fill="none" stroke="#c8cfc8"/>
<text x="902" y="545.1" fill="#000" font-size="10.67" text-anchor="start" font-weight="normal">40</text>
<text x="902" y="574.7" fill="#000" font-size="10.67" text-anchor="start" font-weight="normal">20</text>
<text x="902" y="604.4" fill="#000" font-size="10.67" text-anchor="start" font-weight="normal">0</text>
<text x="902" y="634" fill="#000" font-size="10.67" text-anchor="start" font-weight="normal">-20</text>
<text x="902" y="663.6" fill="#000" font-size="10.67" text-anchor="start" font-weight="normal">-40</text>
<rect x="3.5" y="672.5" width="7" height="7" fill="#800080" stroke="#000"/>
<text x="15.3" y="679.5" fill="#000" font-size="10.67" text-anchor="start" font-weight="normal">RSI (14): 61,647</text>
<line x1="2.5" y1="709.5" x2="898.5" y2="709.5" stroke="#c8cfc8" stroke-width="1"/>
<line x1="2.5" y1="733.5" x2="898.5" y2="733.5" stroke="#c8cfc8" stroke-width="1"/>
<line x1="2.5" y1="756.5" x2="898.5" y2="756.5" stroke="#c8cfc8" stroke-width="1"/>
<line x1="2.5" y1="780.5" x2="898.5" y2="780.5" stroke="#c8cfc8" stroke-width="1"/>
<line x1="71.5" y1="686" x2="71.5" y2="804" stroke="#fcdcfc" stroke-width="1"/>
<line x1="71.5" y1="686" x2="71.5" y2="804" stroke="#c8cfc8" stroke-width="1" stroke-dasharray="3,1"/>
<line x1="145.5" y1="686" x2="145.5" y2="804" stroke="#fcdcfc" stroke-width="1"/>
<line x1="145.5" y1="686" x2="145.5" y2="804" stroke="#c8cfc8" stroke-width="1" stroke-dasharray="3,1"/>
<line x1="216.5" y1="686" x2="216.5" y2="804" stroke="#fcdcfc" stroke-width="1"/>
<line x1="216.5" y1="686" x2="216.5" y2="804" stroke="#c8cfc8" stroke-width="1" stroke-dasharray="3,1"/>
<line x1="284.5" y1="686" x2="284.5" y2="804" stroke="#fcdcfc" stroke-width="1"/>
<line x1="284.5" y1="686" x2="284.5" y2="804" stroke="#c8cfc8" stroke-width="1" stroke-dasharray="3,1"/>
<line x1="355.5" y1="686" x2="355.5" y2="804" stroke="#fcdcfc" stroke-width="1"/>
<line x1="355.5" y1="686" x2="355.5" y2="804" stroke="#c8cfc8" stroke-width="1" stroke-dasharray="3,1"/>
<line x1="426.5" y1="686" x2="426.5" y2="804" stroke="#fcdcfc" stroke-width="1"/>
<line x1="426.5" y1="686" x2="426.5" y2="804" stroke="#c8cfc8" stroke-width="1" stroke-dasharray="3,1"/>
<line x1="497.5" y1="686" x2="497.5" y2="804" stroke="#fcdcfc" stroke-width="1"/>
<line x1="497.5" y1="686" x2="497.5" y2="804" stroke="#c8cfc8" stroke-width="1" stroke-dasharray="3,1"/>
<line x1="561.5" y1="686" x2="561.5" y2="804" stroke="#fcdcfc" stroke-width="1"/>
<line x1="561.5" y1="686" x2="561.5" y2="804" stroke="#c8cfc8" stroke-width="1" stroke-dasharray="3,1"/>
<line x1="635.5" y1="686" x2="635.5" y2="804" stroke="#fcdcfc" stroke-width="1"/>
<line x1="635.5" y1="686" x2="635.5" y2="804" stroke="#c8cfc8" stroke-width="1" stroke-dasharray="3,1"/>
<line x1="700.5" y1="686" x2="700.5" y2="804" stroke="#fcdcfc" stroke-width="1"/>
<line x1="700.5" y1="686" x2="700.5" y2="804" stroke="#c8cfc8" stroke-width="1" stroke-dasharray="3,1"/>
<line x1="774.5" y1="686" x2="774.5" y2="804" stroke="#fcdcfc" stroke-width="1"/>
<line x1="774.5" y1="686" x2="774.5" y2="804" stroke="#c8cfc8" stroke-width="1" stroke-dasharray="3,1"/>
<line x1="845.5" y1="686" x2="845.5" y2="804" stroke="#fcdcfc" stroke-width="1"/>
<line x1="845.5" y1="686" x2="845.5" y2="804" stroke="#c8cfc8" stroke-width="1" stroke-dasharray="3,1"/>
<clipPath id="c1"><rect x="0" y="0" width="1450" height="721.5"/></clipPath>
<polygon points="4,723 7.1,720.9 10.3,719.8 13.5,718.2 16.7,720.3 19.8,719.4 23,723.8 26.6,736.5 29.8,733.3 33,736.2 36.2,735.7 39.7,740.1 42.8,738.4 46,746.3 49.2,740.5 52.3,743.6 55.5,746.8 58.7,744.4 62.2,736.8 65.4,738.4 68.5,733.3 71.7,732 75.3,728.6 78.5,731.4 81.7,730.1 84.9,743.1 87.2,744.4 91.2,741.6 94.4,739.3 97.6,742.8 100.7,744.7 103.9,742.8 107.9,739.3 113.4,736.5 117.4,744.1 122.9,745.2 126.9,753.1 130.1,754.3 135.6,753.6 139.6,760.3 142,761.5 145.1,757.9 149.1,748.4 152.3,746.3 155.5,733.3 158.6,735.7 161.8,741.2 165.8,747.3 168.1,747.6 171.3,752.7 174.5,750.4 177.7,753.6 181.6,756.8 184.8,753.9 188,752 191.1,738.4 200.7,737.8 203.8,746.3 207.8,750 211,750.8 216.5,756.3 219.7,773 222.9,774.2 226.8,777.4 229.8,777.7 232.9,773.3 236.1,775.8 242.4,770.6 245.6,773.3 248.8,768.5 255.1,756.3 258.3,758.7 261.5,758.4 265,759.5 268.1,750.4 271.8,755.2 275,755.2 278.1,747.3 281.3,747 284.5,738.1 287.7,732.5 290.8,729.8 294.5,728.6 297.2,746.3 300.8,750.4 303.5,748.9 306.7,757.9 310.3,769 313.5,771.4 316.7,766.3 319.9,766.9 326.2,772.2 329.7,767.9 332.9,769 336,774.6 342.4,776.5 345.6,769 350.3,772.2 354.3,774.2 358.2,770.1 362.2,772.2 365.4,772.2 368.6,769 374.9,773.3 378.1,772.2 381.3,773.8 387.6,781.2 390.8,776.1 393.9,772.7 397.1,774.2 403.5,774.9 406.6,770.6 409.8,770.1 413,765.8 416.1,762.7 419.8,748.4 423.3,751.1 426.1,752 429.6,747.3 432.8,743.1 436,732.5 439.5,738.1 443.9,732.5 448.7,728.2 453.2,726.2 455.6,725.7 458.7,723.5 461.9,717.4 465.1,728.6 468.2,728.6 471.4,726.2 474.6,722.5 477.8,729.3 480.9,736.2 484.1,744.1 490.5,740.5 494.1,732.5 497.3,733 500.4,730.1 503.6,727.8 506.8,722.2 510,722.2 513.1,719.4 516.3,729.8 519.5,728.6 523,734.1 526.1,732.5 529.3,730.5 532.5,727.3 535.7,731.4 539.1,729.3 542.3,731.4 545.5,730.1 548.7,724.1 551.8,720.3 555,724.1 558.7,728.9 561.8,728.6 565,741.6 568.2,741.6 574.5,753.9 580.9,762.2 584.5,758.7 587.7,760 590.9,762.2 594,746 597.2,741.6 600.4,739.3 603.6,736.2 606.7,730.1 609.9,729.3 613.4,732 616.6,731.4 619.7,726.2 622.9,728.9 626.1,728.2 629.3,737.3 632.4,734.6 636.4,730.9 639.6,729.3 642.7,730.9 645.9,734.1 649.1,732 652.3,732.5 655.4,720.6 658.6,715.9 661.8,715.5 664.9,716.2 668.1,719.4 671.3,716.2 674.5,727.3 677.6,726.2 681,725.4 684.2,735.2 687.4,744.1 690.5,741.6 693.7,744.7 696.9,741.6 700.4,749.5 703.6,750.8 706.7,760.6 710.2,765.4 713.9,765 717.8,766.9 721.8,769.5 725.4,763.8 728.9,760.3 732.1,758.4 735.6,751.1 738.9,734.6 742.1,744.1 745.3,739.7 748.4,736.8 751.6,743.1 755.1,738.4 758.3,740.5 761.5,734.1 764.6,734.6 767.8,737.3 771.4,734.1 774.6,736.2 777.8,729.3 781,728.9 784.1,723.8 787.6,729.3 790.8,735.7 794,742 800.3,744.1 803.5,746.8 807,751.1 810.2,751.6 814.3,758.4 816.2,758.4 825.7,746.3 828.9,755.2 835.5,749.5 842.4,755.5 845.5,765.8 851.1,761.1 855,761.5 858.2,767.9 861.4,767.4 867.7,759 871.4,761.1 874.6,750.4 877.7,746.3 880.9,740.5 884.4,741.6 887.6,738.9 890.7,732.5 896.3,730.9 896.3,721.5 4,721.5" fill="url(#redf)" clip-path="url(#c1)"/>
<clipPath id="c2"><rect x="0" y="768.5" width="1450" height="1390"/></clipPath>
<polygon points="4,723 7.1,720.9 10.3,719.8 13.5,718.2 16.7,720.3 19.8,719.4 23,723.8 26.6,736.5 29.8,733.3 33,736.2 36.2,735.7 39.7,740.1 42.8,738.4 46,746.3 49.2,740.5 52.3,743.6 55.5,746.8 58.7,744.4 62.2,736.8 65.4,738.4 68.5,733.3 71.7,732 75.3,728.6 78.5,731.4 81.7,730.1 84.9,743.1 87.2,744.4 91.2,741.6 94.4,739.3 97.6,742.8 100.7,744.7 103.9,742.8 107.9,739.3 113.4,736.5 117.4,744.1 122.9,745.2 126.9,753.1 130.1,754.3 135.6,753.6 139.6,760.3 142,761.5 145.1,757.9 149.1,748.4 152.3,746.3 155.5,733.3 158.6,735.7 161.8,741.2 165.8,747.3 168.1,747.6 171.3,752.7 174.5,750.4 177.7,753.6 181.6,756.8 184.8,753.9 188,752 191.1,738.4 200.7,737.8 203.8,746.3 207.8,750 211,750.8 216.5,756.3 219.7,773 222.9,774.2 226.8,777.4 229.8,777.7 232.9,773.3 236.1,775.8 242.4,770.6 245.6,773.3 248.8,768.5 255.1,756.3 258.3,758.7 261.5,758.4 265,759.5 268.1,750.4 271.8,755.2 275,755.2 278.1,747.3 281.3,747 284.5,738.1 287.7,732.5 290.8,729.8 294.5,728.6 297.2,746.3 300.8,750.4 303.5,748.9 306.7,757.9 310.3,769 313.5,771.4 316.7,766.3 319.9,766.9 326.2,772.2 329.7,767.9 332.9,769 336,774.6 342.4,776.5 345.6,769 350.3,772.2 354.3,774.2 358.2,770.1 362.2,772.2 365.4,772.2 368.6,769 374.9,773.3 378.1,772.2 381.3,773.8 387.6,781.2 390.8,776.1 393.9,772.7 397.1,774.2 403.5,774.9 406.6,770.6 409.8,770.1 413,765.8 416.1,762.7 419.8,748.4 423.3,751.1 426.1,752 429.6,747.3 432.8,743.1 436,732.5 439.5,738.1 443.9,732.5 448.7,728.2 453.2,726.2 455.6,725.7 458.7,723.5 461.9,717.4 465.1,728.6 468.2,728.6 471.4,726.2 474.6,722.5 477.8,729.3 480.9,736.2 484.1,744.1 490.5,740.5 494.1,732.5 497.3,733 500.4,730.1 503.6,727.8 506.8,722.2 510,722.2 513.1,719.4 516.3,729.8 519.5,728.6 523,734.1 526.1,732.5 529.3,730.5 532.5,727.3 535.7,731.4 539.1,729.3 542.3,731.4 545.5,730.1 548.7,724.1 551.8,720.3 555,724.1 558.7,728.9 561.8,728.6 565,741.6 568.2,741.6 574.5,753.9 580.9,762.2 584.5,758.7 587.7,760 590.9,762.2 594,746 597.2,741.6 600.4,739.3 603.6,736.2 606.7,730.1 609.9,729.3 613.4,732 616.6,731.4 619.7,726.2 622.9,728.9 626.1,728.2 629.3,737.3 632.4,734.6 636.4,730.9 639.6,729.3 642.7,730.9 645.9,734.1 649.1,732 652.3,732.5 655.4,720.6 658.6,715.9 661.8,715.5 664.9,716.2 668.1,719.4 671.3,716.2 674.5,727.3 677.6,726.2 681,725.4 684.2,735.2 687.4,744.1 690.5,741.6 693.7,744.7 696.9,741.6 700.4,749.5 703.6,750.8 706.7,760.6 710.2,765.4 713.9,765 717.8,766.9 721.8,769.5 725.4,763.8 728.9,760.3 732.1,758.4 735.6,751.1 738.9,734.6 742.1,744.1 745.3,739.7 748.4,736.8 751.6,743.1 755.1,738.4 758.3,740.5 761.5,734.1 764.6,734.6 767.8,737.3 771.4,734.1 774.6,736.2 777.8,729.3 781,728.9 784.1,723.8 787.6,729.3 790.8,735.7 794,742 800.3,744.1 803.5,746.8 807,751.1 810.2,751.6 814.3,758.4 816.2,758.4 825.7,746.3 828.9,755.2 835.5,749.5 842.4,755.5 845.5,765.8 851.1,761.1 855,761.5 858.2,767.9 861.4,767.4 867.7,759 871.4,761.1 874.6,750.4 877.7,746.3 880.9,740.5 884.4,741.6 887.6,738.9 890.7,732.5 896.3,730.9 896.3,768.5 4,768.5" fill="url(#bluef)" clip-path="url(#c2)"/>
<line x1="2.5" y1="721.5" x2="898.5" y2="721.5" stroke="#ff4848" stroke-width="1"/>
<line x1="2.5" y1="768.5" x2="898.5" y2="768.5" stroke="#4848ff" stroke-width="1"/>
<polyline points="4,723 7.1,720.9 10.3,719.8 13.5,718.2 16.7,720.3 19.8,719.4 23,723.8 26.6,736.5 29.8,733.3 33,736.2 36.2,735.7 39.7,740.1 42.8,738.4 46,746.3 49.2,740.5 52.3,743.6 55.5,746.8 58.7,744.4 62.2,736.8 65.4,738.4 68.5,733.3 71.7,732 75.3,728.6 78.5,731.4 81.7,730.1 84.9,743.1 87.2,744.4 91.2,741.6 94.4,739.3 97.6,742.8 100.7,744.7 103.9,742.8 107.9,739.3 113.4,736.5 117.4,744.1 122.9,745.2 126.9,753.1 130.1,754.3 135.6,753.6 139.6,760.3 142,761.5 145.1,757.9 149.1,748.4 152.3,746.3 155.5,733.3 158.6,735.7 161.8,741.2 165.8,747.3 168.1,747.6 171.3,752.7 174.5,750.4 177.7,753.6 181.6,756.8 184.8,753.9 188,752 191.1,738.4 200.7,737.8 203.8,746.3 207.8,750 211,750.8 216.5,756.3 219.7,773 222.9,774.2 226.8,777.4 229.8,777.7 232.9,773.3 236.1,775.8 242.4,770.6 245.6,773.3 248.8,768.5 255.1,756.3 258.3,758.7 261.5,758.4 265,759.5 268.1,750.4 271.8,755.2 275,755.2 278.1,747.3 281.3,747 284.5,738.1 287.7,732.5 290.8,729.8 294.5,728.6 297.2,746.3 300.8,750.4 303.5,748.9 306.7,757.9 310.3,769 313.5,771.4 316.7,766.3 319.9,766.9 326.2,772.2 329.7,767.9 332.9,769 336,774.6 342.4,776.5 345.6,769 350.3,772.2 354.3,774.2 358.2,770.1 362.2,772.2 365.4,772.2 368.6,769 374.9,773.3 378.1,772.2 381.3,773.8 387.6,781.2 390.8,776.1 393.9,772.7 397.1,774.2 403.5,774.9 406.6,770.6 409.8,770.1 413,765.8 416.1,762.7 419.8,748.4 423.3,751.1 426.1,752 429.6,747.3 432.8,743.1 436,732.5 439.5,738.1 443.9,732.5 448.7,728.2 453.2,726.2 455.6,725.7 458.7,723.5 461.9,717.4 465.1,728.6 468.2,728.6 471.4,726.2 474.6,722.5 477.8,729.3 480.9,736.2 484.1,744.1 490.5,740.5 494.1,732.5 497.3,733 500.4,730.1 503.6,727.8 506.8,722.2 510,722.2 513.1,719.4 516.3,729.8 519.5,728.6 523,734.1 526.1,732.5 529.3,730.5 532.5,727.3 535.7,731.4 539.1,729.3 542.3,731.4 545.5,730.1 548.7,724.1 551.8,720.3 555,724.1 558.7,728.9 561.8,728.6 565,741.6 568.2,741.6 574.5,753.9 580.9,762.2 584.5,758.7 587.7,760 590.9,762.2 594,746 597.2,741.6 600.4,739.3 603.6,736.2 606.7,730.1 609.9,729.3 613.4,732 616.6,731.4 619.7,726.2 622.9,728.9 626.1,728.2 629.3,737.3 632.4,734.6 636.4,730.9 639.6,729.3 642.7,730.9 645.9,734.1 649.1,732 652.3,732.5 655.4,720.6 658.6,715.9 661.8,715.5 664.9,716.2 668.1,719.4 671.3,716.2 674.5,727.3 677.6,726.2 681,725.4 684.2,735.2 687.4,744.1 690.5,741.6 693.7,744.7 696.9,741.6 700.4,749.5 703.6,750.8 706.7,760.6 710.2,765.4 713.9,765 717.8,766.9 721.8,769.5 725.4,763.8 728.9,760.3 732.1,758.4 735.6,751.1 738.9,734.6 742.1,744.1 745.3,739.7 748.4,736.8 751.6,743.1 755.1,738.4 758.3,740.5 761.5,734.1 764.6,734.6 767.8,737.3 771.4,734.1 774.6,736.2 777.8,729.3 781,728.9 784.1,723.8 787.6,729.3 790.8,735.7 794,742 800.3,744.1 803.5,746.8 807,751.1 810.2,751.6 814.3,758.4 816.2,758.4 825.7,746.3 828.9,755.2 835.5,749.5 842.4,755.5 845.5,765.8 851.1,761.1 855,761.5 858.2,767.9 861.4,767.4 867.7,759 871.4,761.1 874.6,750.4 877.7,746.3 880.9,740.5 884.4,741.6 887.6,738.9 890.7,732.5 896.3,730.9" fill="none" stroke="#800080" stroke-width="1.2"/>
<rect x="2.5" y="685.5" width="896.0" height="119.0" fill="none" stroke="#c8cfc8"/>
<text x="902" y="689.1" fill="#000" font-size="10.67" text-anchor="start" font-weight="normal">100</text>
<text x="902" y="712.9" fill="#000" font-size="10.67" text-anchor="start" font-weight="normal">80</text>
<text x="902" y="724.8" fill="#ff4040" font-size="10.67" text-anchor="start" font-weight="normal">70</text>
<text x="902" y="736.7" fill="#000" font-size="10.67" text-anchor="start" font-weight="normal">60</text>
<text x="902" y="760.5" fill="#000" font-size="10.67" text-anchor="start" font-weight="normal">40</text>
<text x="902" y="772.4" fill="#4040ff" font-size="10.67" text-anchor="start" font-weight="normal">30</text>
<text x="902" y="784.3" fill="#000" font-size="10.67" text-anchor="start" font-weight="normal">20</text>
<text x="902" y="808.1" fill="#000" font-size="10.67" text-anchor="start" font-weight="normal">0</text>
<rect x="3.5" y="816.5" width="7" height="7" fill="#0000cc" stroke="#000"/>
<text x="15.3" y="823.5" fill="#000" font-size="10.67" text-anchor="start" font-weight="normal">Momentum (20): 9,72</text>
<line x1="2.5" y1="859.5" x2="898.5" y2="859.5" stroke="#c8cfc8" stroke-width="1"/>
<line x1="2.5" y1="888.5" x2="898.5" y2="888.5" stroke="#c8cfc8" stroke-width="1"/>
<line x1="2.5" y1="918.5" x2="898.5" y2="918.5" stroke="#c8cfc8" stroke-width="1"/>
<line x1="71.5" y1="830" x2="71.5" y2="948" stroke="#fcdcfc" stroke-width="1"/>
<line x1="71.5" y1="830" x2="71.5" y2="948" stroke="#c8cfc8" stroke-width="1" stroke-dasharray="3,1"/>
<line x1="145.5" y1="830" x2="145.5" y2="948" stroke="#fcdcfc" stroke-width="1"/>
<line x1="145.5" y1="830" x2="145.5" y2="948" stroke="#c8cfc8" stroke-width="1" stroke-dasharray="3,1"/>
<line x1="216.5" y1="830" x2="216.5" y2="948" stroke="#fcdcfc" stroke-width="1"/>
<line x1="216.5" y1="830" x2="216.5" y2="948" stroke="#c8cfc8" stroke-width="1" stroke-dasharray="3,1"/>
<line x1="284.5" y1="830" x2="284.5" y2="948" stroke="#fcdcfc" stroke-width="1"/>
<line x1="284.5" y1="830" x2="284.5" y2="948" stroke="#c8cfc8" stroke-width="1" stroke-dasharray="3,1"/>
<line x1="355.5" y1="830" x2="355.5" y2="948" stroke="#fcdcfc" stroke-width="1"/>
<line x1="355.5" y1="830" x2="355.5" y2="948" stroke="#c8cfc8" stroke-width="1" stroke-dasharray="3,1"/>
<line x1="426.5" y1="830" x2="426.5" y2="948" stroke="#fcdcfc" stroke-width="1"/>
<line x1="426.5" y1="830" x2="426.5" y2="948" stroke="#c8cfc8" stroke-width="1" stroke-dasharray="3,1"/>
<line x1="497.5" y1="830" x2="497.5" y2="948" stroke="#fcdcfc" stroke-width="1"/>
<line x1="497.5" y1="830" x2="497.5" y2="948" stroke="#c8cfc8" stroke-width="1" stroke-dasharray="3,1"/>
<line x1="561.5" y1="830" x2="561.5" y2="948" stroke="#fcdcfc" stroke-width="1"/>
<line x1="561.5" y1="830" x2="561.5" y2="948" stroke="#c8cfc8" stroke-width="1" stroke-dasharray="3,1"/>
<line x1="635.5" y1="830" x2="635.5" y2="948" stroke="#fcdcfc" stroke-width="1"/>
<line x1="635.5" y1="830" x2="635.5" y2="948" stroke="#c8cfc8" stroke-width="1" stroke-dasharray="3,1"/>
<line x1="700.5" y1="830" x2="700.5" y2="948" stroke="#fcdcfc" stroke-width="1"/>
<line x1="700.5" y1="830" x2="700.5" y2="948" stroke="#c8cfc8" stroke-width="1" stroke-dasharray="3,1"/>
<line x1="774.5" y1="830" x2="774.5" y2="948" stroke="#fcdcfc" stroke-width="1"/>
<line x1="774.5" y1="830" x2="774.5" y2="948" stroke="#c8cfc8" stroke-width="1" stroke-dasharray="3,1"/>
<line x1="845.5" y1="830" x2="845.5" y2="948" stroke="#fcdcfc" stroke-width="1"/>
<line x1="845.5" y1="830" x2="845.5" y2="948" stroke="#c8cfc8" stroke-width="1" stroke-dasharray="3,1"/>
<polyline points="4,859.8 7.1,857.1 10.3,855.4 13.5,858.2 17.1,861.4 20.3,862.2 23.5,868.6 26.6,874.9 29.8,873.6 33,872 36.5,877.3 39.3,877.3 42.5,870.1 46,874.1 49.2,866.2 52.3,886.8 55.5,891.1 59,886.3 62.2,882.5 65.4,884.7 68.5,886.3 71.7,888.4 74.9,886.3 78.5,890.4 81.7,888.9 84.9,897.1 88,894.7 91.2,886.8 94.4,887.6 97.6,887.6 100.7,889.2 103.9,886 107.6,884.4 110.7,879.7 113.9,882 117.1,883.1 120.6,882 123.7,883.6 126.6,893.1 129.8,893.6 133.2,897.1 136.4,897.9 139.6,904.2 142.8,903.5 145.6,903.1 148.8,893.1 152.3,891.6 155.5,886.3 158.6,889.2 161.8,889.5 165,891.1 168.1,892.3 171.3,897.1 174.5,896.3 178.5,900 181.6,897.4 184.8,896.3 188,895.5 191.1,885.2 194.3,884.1 204.6,884.1 209.4,886.3 213.4,891.1 216.5,893.6 219.7,913 222.9,912.7 226,913.3 230.6,909.5 236.1,908.5 239.3,909 242.4,905.4 245.6,906.3 248.8,906.3 252.3,904.7 255.9,909 259.1,910.1 264.7,910.6 268.6,904.2 272.6,905 278.1,900.6 281.3,899 284.5,882.5 287.7,879.3 290.8,874.6 294,874.6 297.7,882 300.8,882 304,882.5 307.2,888.4 310.3,895.5 313.5,899 316.7,899 320.2,902.2 323.4,903.8 326.5,906.3 329.4,903.8 332.9,907.4 336,912.2 339.2,913.3 342.7,916.9 345.9,913.8 349,918.5 352.2,925.7 355.4,927.6 358.6,926 362.2,921.7 365.4,920.1 368.6,919 371.7,914.9 374.9,909 378.1,906.6 381.3,909.8 384.4,913 387.6,914.9 390.8,910.6 393.9,911.1 397.1,912.2 400.3,905.4 403.5,905 406.6,903.5 410.3,906.6 413.5,903.1 416.6,898.7 419.8,893.6 423.3,895.8 426.5,893.9 429.6,892 432.8,891.6 436,886.3 439.2,885.2 442.6,883.1 445.8,880.5 449,874.1 452.4,868.6 455.6,870.5 458.7,868.6 461.4,863.5 465.1,867 468.2,866.2 471.4,866.2 474.6,863.5 477.8,868.2 481.4,871.7 484.6,879.3 487.8,877.3 490.9,876.2 494.4,873.3 497.6,875.2 500.8,878.1 503.6,874.9 506.8,872.5 510.3,875.2 513.5,874.1 516.6,878.9 519.8,878.4 523,881.6 526.5,885.2 529.6,880.5 532.5,878.4 535.7,880.9 539.1,883.1 542.3,880.9 545.5,877.8 548.7,870.5 552.3,869.3 555.5,872 558.7,877.3 561.8,877.3 565,883.1 568.2,884.7 571.4,891.1 574.5,894.3 577.7,898.7 580.9,897.4 584.5,897.4 587.7,895.5 590.9,897.4 594,893.6 597.5,892.7 600.7,890.8 603.9,890.4 607,886 610.2,885.7 613.4,889.5 616.6,892.3 619.7,888.4 622.9,887.9 626.1,887.6 629.3,886.3 632.4,884.7 635.6,881.6 638.8,878.1 641.9,875.2 645.4,873.6 651.8,873.3 655.4,867 658.6,868.9 661.8,870.5 664.9,871.4 668.1,873.6 671.3,876.2 674.5,879.3 677.6,877.8 680.6,877.3 684.2,882 687.7,885.2 690.9,884.1 694,882.5 697.2,883.1 700.7,887.6 703.9,889.2 707.5,894.3 710.7,896.3 715.9,897.4 719.4,904.2 722.9,909 728.9,906.6 735.3,904.2 738.8,894.7 742.4,899 745.6,897.1 748.8,893.6 752.7,892.3 758.3,891.1 761.9,887.9 765.1,885.2 767.8,886.8 771,880 774.1,877.8 777.8,873.6 781,873 784.5,867.8 787.6,868.9 790.8,872.5 794,876.8 797.1,877.8 800.3,880.5 803.5,889.2 806.7,886.8 809.8,889.5 813.3,893.6 816.5,891.6 819.7,892.3 822.8,890.4 826,892.3 829.7,895.8 832.8,893.6 838.4,895.2 841.6,899.5 844.7,905 848.2,909.5 851.4,906.9 854.6,904.2 859.8,905 864.6,902.7 867.7,900.6 871.7,899 874.9,895.5 880.4,888.9 883.6,890.4 887.6,890.4 890.7,887.6 893.6,885.2 896.3,886" fill="none" stroke="#1e1eff" stroke-width="1.2"/>
<rect x="2.5" y="829.5" width="896.0" height="119.0" fill="none" stroke="#c8cfc8"/>
<text x="902" y="833.1" fill="#000" font-size="10.67" text-anchor="start" font-weight="normal">200</text>
<text x="902" y="862.8" fill="#000" font-size="10.67" text-anchor="start" font-weight="normal">100</text>
<text x="902" y="892.6" fill="#000" font-size="10.67" text-anchor="start" font-weight="normal">0</text>
<text x="902" y="922.3" fill="#000" font-size="10.67" text-anchor="start" font-weight="normal">-100</text>
<text x="902" y="952.1" fill="#000" font-size="10.67" text-anchor="start" font-weight="normal">-200</text>
<rect x="3.5" y="960.5" width="7" height="7" fill="#007878" stroke="#000"/>
<text x="15.3" y="967.5" fill="#000" font-size="10.67" text-anchor="start" font-weight="normal" letter-spacing="0.21">Slow Stochastic %K (14): 96,374</text>
<rect x="200.5" y="960.5" width="7" height="7" fill="#787800" stroke="#000"/>
<text x="212.3" y="967.5" fill="#000" font-size="10.67" text-anchor="start" font-weight="normal">%D (3): 94,023</text>
<line x1="2.5" y1="997.5" x2="898.5" y2="997.5" stroke="#c8cfc8" stroke-width="1"/>
<line x1="2.5" y1="1021.5" x2="898.5" y2="1021.5" stroke="#c8cfc8" stroke-width="1"/>
<line x1="2.5" y1="1044.5" x2="898.5" y2="1044.5" stroke="#c8cfc8" stroke-width="1"/>
<line x1="2.5" y1="1068.5" x2="898.5" y2="1068.5" stroke="#c8cfc8" stroke-width="1"/>
<line x1="71.5" y1="974" x2="71.5" y2="1092" stroke="#fcdcfc" stroke-width="1"/>
<line x1="71.5" y1="974" x2="71.5" y2="1092" stroke="#c8cfc8" stroke-width="1" stroke-dasharray="3,1"/>
<line x1="145.5" y1="974" x2="145.5" y2="1092" stroke="#fcdcfc" stroke-width="1"/>
<line x1="145.5" y1="974" x2="145.5" y2="1092" stroke="#c8cfc8" stroke-width="1" stroke-dasharray="3,1"/>
<line x1="216.5" y1="974" x2="216.5" y2="1092" stroke="#fcdcfc" stroke-width="1"/>
<line x1="216.5" y1="974" x2="216.5" y2="1092" stroke="#c8cfc8" stroke-width="1" stroke-dasharray="3,1"/>
<line x1="284.5" y1="974" x2="284.5" y2="1092" stroke="#fcdcfc" stroke-width="1"/>
<line x1="284.5" y1="974" x2="284.5" y2="1092" stroke="#c8cfc8" stroke-width="1" stroke-dasharray="3,1"/>
<line x1="355.5" y1="974" x2="355.5" y2="1092" stroke="#fcdcfc" stroke-width="1"/>
<line x1="355.5" y1="974" x2="355.5" y2="1092" stroke="#c8cfc8" stroke-width="1" stroke-dasharray="3,1"/>
<line x1="426.5" y1="974" x2="426.5" y2="1092" stroke="#fcdcfc" stroke-width="1"/>
<line x1="426.5" y1="974" x2="426.5" y2="1092" stroke="#c8cfc8" stroke-width="1" stroke-dasharray="3,1"/>
<line x1="497.5" y1="974" x2="497.5" y2="1092" stroke="#fcdcfc" stroke-width="1"/>
<line x1="497.5" y1="974" x2="497.5" y2="1092" stroke="#c8cfc8" stroke-width="1" stroke-dasharray="3,1"/>
<line x1="561.5" y1="974" x2="561.5" y2="1092" stroke="#fcdcfc" stroke-width="1"/>
<line x1="561.5" y1="974" x2="561.5" y2="1092" stroke="#c8cfc8" stroke-width="1" stroke-dasharray="3,1"/>
<line x1="635.5" y1="974" x2="635.5" y2="1092" stroke="#fcdcfc" stroke-width="1"/>
<line x1="635.5" y1="974" x2="635.5" y2="1092" stroke="#c8cfc8" stroke-width="1" stroke-dasharray="3,1"/>
<line x1="700.5" y1="974" x2="700.5" y2="1092" stroke="#fcdcfc" stroke-width="1"/>
<line x1="700.5" y1="974" x2="700.5" y2="1092" stroke="#c8cfc8" stroke-width="1" stroke-dasharray="3,1"/>
<line x1="774.5" y1="974" x2="774.5" y2="1092" stroke="#fcdcfc" stroke-width="1"/>
<line x1="774.5" y1="974" x2="774.5" y2="1092" stroke="#c8cfc8" stroke-width="1" stroke-dasharray="3,1"/>
<line x1="845.5" y1="974" x2="845.5" y2="1092" stroke="#fcdcfc" stroke-width="1"/>
<line x1="845.5" y1="974" x2="845.5" y2="1092" stroke="#c8cfc8" stroke-width="1" stroke-dasharray="3,1"/>
<polyline points="6.9,1011 10.1,1000.3 13.3,987.1 16.6,982 19.8,982 23,984 26.2,987.9 29.5,993.9 32.7,1004.1 35.9,1015.3 39.1,1029.2 42.4,1040.5 45.6,1053.1 48.8,1060.7 52,1067.1 55.3,1068.8 58.5,1071.8 61.7,1070.3 64.9,1064.3 68.2,1046.7 71.4,1025.8 74.6,1003.5 77.9,990.6 81.1,984.4 84.3,988.5 87.5,997.8 90.8,1013.4 94,1024.3 97.2,1029.7 100.4,1030 103.7,1032.8 106.9,1036.9 110.1,1038.7 113.3,1036.1 116.6,1034.6 119.8,1036.7 123,1044.9 126.2,1055.6 129.5,1066.5 132.7,1075.7 135.9,1079.6 139.1,1080.8 142.4,1080.1 145.6,1080.3 148.8,1077.1 152,1068.6 155.3,1050.1 158.5,1028.9 161.7,1009.4 164.9,1003.8 168.2,1009.7 171.4,1023.6 174.6,1035.5 177.9,1045.6 181.1,1052.8 184.3,1060.5 187.5,1065 190.8,1063.5 194,1052.1 197.2,1034.5 200.4,1020.1 203.7,1014.8 206.9,1019.9 210.1,1029.7 213.3,1041.2 216.6,1051.2 219.8,1062.5 223,1073 226.2,1081.9 229.5,1084.5 232.7,1083.4 235.9,1079.9 239.1,1077.7 242.4,1077.2 245.6,1077.9 248.8,1078.1 252,1076.8 255.3,1072.5 258.5,1066.6 261.7,1060.5 264.9,1053.5 268.2,1040.8 271.4,1023.2 274.6,1008.8 277.9,1003.7 281.1,1003.9 284.3,1001.4 287.5,995.9 290.8,989.9 294,986.7 297.2,990.4 300.4,1003 303.7,1025.3 306.9,1047.1 310.1,1064.6 313.3,1075.2 316.6,1080.2 319.8,1081.4 323,1080.7 326.2,1081.9 329.5,1084.1 332.7,1085.5 335.9,1085.8 339.1,1086.3 342.4,1086.7 345.6,1086 348.8,1083.1 352,1081 355.3,1079.7 358.5,1078.9 361.7,1075.9 364.9,1072.8 368.2,1070.3 371.4,1069 374.6,1069.2 377.9,1070.9 381.1,1074.4 384.3,1076.9 387.5,1079.4 390.8,1080.2 394,1078.6 397.2,1075.1 400.4,1072.2 403.7,1072.9 406.9,1074.1 410.1,1074.7 413.3,1072.1 416.6,1066.2 419.8,1054.1 423,1037.5 426.2,1020.1 429.5,1007.6 432.7,998.4 435.9,991.7 439.1,988.1 442.4,987.1 445.6,987.7 448.8,985.3 452,984.2 455.3,984.3 458.5,985.4 461.7,984.4 464.9,983.7 468.2,984.9 471.4,988.7 474.6,989.5 477.9,988.8 481.1,990 484.3,1000.3 487.5,1018.1 490.8,1035.5 494,1041 497.2,1033.3 500.4,1017.4 503.7,1004.7 506.9,994.7 510.1,987.8 513.3,981.6 516.6,981.1 519.8,985.4 523,993.7 526.2,999.3 529.5,1002.2 532.7,999.7 535.9,996.1 539.1,992.6 542.4,993 545.6,994.8 548.8,995.7 552,992.8 555.3,989.6 558.5,989.8 561.7,995.9 564.9,1006.4 568.2,1019.8 571.4,1036 574.6,1052.6 577.9,1068.5 581.1,1080.1 584.3,1085.4 587.5,1085 590.8,1081.9 594,1077.8 597.2,1069.8 600.4,1056.4 603.7,1039.6 606.9,1022.1 610.1,1005.7 613.3,993.4 616.6,987.2 619.8,986.4 623,987.6 626.2,988 629.5,989.8 632.7,992.5 635.9,995.4 639.1,994.6 642.4,992.4 645.6,992.5 648.8,997.9 652,1007.4 655.3,1010.5 658.5,1004.4 661.7,990.1 664.9,980.2 668.2,977.4 671.4,980.3 674.6,986.2 677.9,991.9 681.1,997.6 684.3,1001.6 687.5,1008.1 690.8,1017 694,1030.7 697.2,1040.5 700.4,1050 703.7,1056.7 706.9,1069.1 710.1,1078.7 713.3,1085.4 716.6,1087.5 719.8,1088.2 723,1087.9 726.2,1084.8 729.5,1080.8 732.7,1074.2 735.9,1065.5 739.1,1050.4 742.4,1032.5 745.6,1014.8 748.8,1004.6 752,998.5 755.3,995.4 758.5,994.2 761.7,991.6 764.9,988.8 768.2,984.4 771.4,983.7 774.6,985.4 777.9,985.8 781.1,985.5 784.3,982.5 787.5,982.9 790.8,987.1 794,997.8 797.2,1013.5 800.4,1031.5 803.7,1047.3 806.9,1059.6 810.1,1069.4 813.3,1078.5 816.6,1084.8 819.8,1086.9 823,1084.1 826.2,1078 829.5,1072.8 832.7,1070 835.9,1069.3 839.1,1067.9 842.4,1068.2 845.6,1071.8 848.8,1077.4 852,1080.3 855.3,1078.3 858.5,1075.5 861.7,1074.6 864.9,1074.7 868.2,1072.6 871.4,1067.9 874.6,1060.9 877.9,1051.6 881.1,1037.7 884.3,1021.5 887.5,1005.8 890.8,993.9 894,985.8 897.2,980.9" fill="none" stroke="#808000" stroke-width="1.2"/>
<polyline points="4,1007.3 7.1,996.2 10.3,983 13.5,980.3 17.1,981.9 20.3,984.3 23.8,987.1 27,995.4 30.1,1003.3 33.3,1020.4 36.5,1028.7 39.7,1046.5 42.8,1051.7 46,1066.8 49.2,1066 52.7,1071.2 55.5,1069.9 59,1076 61.9,1065.2 65,1051.7 68.5,1019.2 71.7,1001.7 74.9,983.5 78,983.5 81.2,984.6 84.4,997.8 87.6,1011.6 91.2,1034.2 94.4,1029.5 97.6,1027.4 100.7,1032.7 103.9,1039 107.1,1040.1 110.2,1037.4 113.4,1030.6 117.1,1036.3 120.6,1046.1 123.7,1058 126.9,1070.3 130.1,1077.9 133.2,1083.9 136.4,1078.7 139.6,1080.2 142.8,1081 145.9,1079.8 149.1,1069.6 152.3,1054.1 155.5,1022.3 158.6,1006.2 161.8,996.6 165,1008.1 168.1,1023.9 171.3,1038.5 174.5,1043.3 177.7,1054.1 181.2,1060.4 184.8,1068 188,1068 191.1,1054.1 194.3,1030.3 197.5,1013.6 200.7,1012.5 203.8,1016.8 207,1031.1 210.2,1042.2 213.4,1051.2 216.5,1060.4 219.7,1075.5 223.7,1084.2 226.9,1088.2 229.8,1082.9 232.9,1079.1 236.1,1076.6 239.3,1077.1 242.4,1077.9 245.6,1078.7 248.8,1077.6 252.3,1073.9 255.5,1065.2 258.6,1059.6 261.8,1055.7 265,1044.6 268.1,1022.3 271.3,1003 274.5,1001.4 278.1,1006.8 281.3,1003.3 284.5,993.5 287.7,989.8 290.8,985.5 294,984.6 297.2,1000.9 300.3,1022.3 303.5,1050.9 306.7,1065.5 309.9,1075.5 313.5,1083.9 316.7,1081 319.9,1079.5 323.4,1081.8 326.5,1085 329.7,1086.1 336,1085.5 339.5,1087.7 342.7,1087.1 345.9,1082.9 349,1078.7 352.2,1080.7 355.4,1079.5 358.6,1076.6 361.7,1071.5 364.9,1070.3 368.1,1069.1 371.3,1067.6 374.4,1070.7 377.6,1073.9 380.8,1077.9 383.9,1078.2 387.6,1081.8 390.8,1080.2 393.9,1073.9 397.1,1071.2 400.3,1071.5 403.5,1076 406.6,1074.7 409.8,1073.9 413,1069.1 416.1,1060.1 419.3,1039.8 422.5,1020.8 425.7,1005.7 428.8,1001.4 432,992.2 435.7,984.6 439.2,988.7 442.3,987.8 445.5,986.7 448.7,981.4 451.8,984.3 455,986.7 456.3,987.4 461.4,981.4 465.1,984.6 468.2,988.7 471.4,993 474.6,986.7 477.8,986.7 480.9,995.4 484.1,1016 487.3,1039.8 490.9,1049 494.1,1033.5 497.3,1016.8 500.4,1000.9 503.6,996.2 506.8,987.4 510,980.3 513.1,976.7 516.3,985.1 519.5,992.5 523,1002 526.1,1002.5 529.3,1002.5 532.5,994.6 535.7,991.9 538.8,990.9 542,995.7 545.2,997.3 548.4,995.1 552.3,986.7 555.5,987.4 558.7,995.4 561.8,1005.7 565,1019.2 568.2,1035 571.4,1054.1 574.5,1068.3 577.7,1082.3 580.9,1089 584,1085 587.2,1081.8 590.4,1080.2 593.6,1073.9 596.7,1060.4 599.9,1042.2 603.1,1024.7 606.2,1008.9 609.4,991.4 613.4,984.6 616.6,986.7 619.7,987.8 622.9,988.2 626.1,987.8 629.3,993 632.4,996.2 635.6,997.3 638.8,990.9 641.9,989 645.1,995.4 648.3,1004.9 651.8,1019.2 654.9,1008.1 658.1,990.6 661.3,975.6 664.5,975.6 667.6,979.8 671.3,984 674.5,993.8 678.2,997.8 681.3,1001.7 684.5,1006.2 687.7,1017.6 690.9,1028.7 694,1046.9 697.2,1046.5 700.4,1056.5 703.6,1066.8 706.7,1083.4 710.2,1085.5 713.4,1087.4 716.6,1089.8 719.7,1087.4 722.9,1086.6 726.1,1081 729.3,1075.5 732.4,1067.6 735.6,1057.2 738.8,1031.9 741.9,1014.4 745.6,1001.7 748.8,999.3 751.9,994.6 755.1,992.2 758.3,996.2 761.5,987.1 764.6,984 767.8,982.4 771,984 774.6,989 777.8,984 781,983.5 784.1,979.8 787.3,984.6 790.5,994.6 793.7,1010.4 796.8,1030.3 800,1048.5 803.2,1058 806.3,1067.6 809.5,1077.9 812.7,1086.1 816.2,1088.7 819.4,1086.6 822.5,1079.5 825.7,1070.3 828.9,1070.3 832,1069.6 835.2,1069.1 838.7,1065.5 841.9,1068.7 845.1,1078.7 848.7,1082.9 851.9,1079.1 855,1073.4 858.2,1073.9 861.4,1076.3 864.6,1074.7 867.7,1068.3 870.9,1063.6 874.1,1054.9 877.3,1043 880.4,1023.9 883.6,1007.3 886.8,994.6 889.9,985.9 893.1,981.1 896.3,977.9" fill="none" stroke="#008080" stroke-width="1.2"/>
<rect x="2.5" y="973.5" width="896.0" height="119.0" fill="none" stroke="#c8cfc8"/>
<text x="902" y="977.1" fill="#000" font-size="10.67" text-anchor="start" font-weight="normal">100</text>
<text x="902" y="1000.9" fill="#000" font-size="10.67" text-anchor="start" font-weight="normal">80</text>
<text x="902" y="1024.7" fill="#000" font-size="10.67" text-anchor="start" font-weight="normal">60</text>
<text x="902" y="1048.5" fill="#000" font-size="10.67" text-anchor="start" font-weight="normal">40</text>
<text x="902" y="1072.3" fill="#000" font-size="10.67" text-anchor="start" font-weight="normal">20</text>
<text x="902" y="1096.1" fill="#000" font-size="10.67" text-anchor="start" font-weight="normal">0</text>
<rect x="3.5" y="1104.5" width="7" height="7" fill="#800080" stroke="#000"/>
<text x="15.3" y="1111.5" fill="#000" font-size="10.67" text-anchor="start" font-weight="normal">CCI (20): 119,41</text>
<line x1="2.5" y1="1147.5" x2="898.5" y2="1147.5" stroke="#c8cfc8" stroke-width="1"/>
<line x1="2.5" y1="1176.5" x2="898.5" y2="1176.5" stroke="#c8cfc8" stroke-width="1"/>
<line x1="2.5" y1="1206.5" x2="898.5" y2="1206.5" stroke="#c8cfc8" stroke-width="1"/>
<line x1="71.5" y1="1118" x2="71.5" y2="1236" stroke="#fcdcfc" stroke-width="1"/>
<line x1="71.5" y1="1118" x2="71.5" y2="1236" stroke="#c8cfc8" stroke-width="1" stroke-dasharray="3,1"/>
<line x1="145.5" y1="1118" x2="145.5" y2="1236" stroke="#fcdcfc" stroke-width="1"/>
<line x1="145.5" y1="1118" x2="145.5" y2="1236" stroke="#c8cfc8" stroke-width="1" stroke-dasharray="3,1"/>
<line x1="216.5" y1="1118" x2="216.5" y2="1236" stroke="#fcdcfc" stroke-width="1"/>
<line x1="216.5" y1="1118" x2="216.5" y2="1236" stroke="#c8cfc8" stroke-width="1" stroke-dasharray="3,1"/>
<line x1="284.5" y1="1118" x2="284.5" y2="1236" stroke="#fcdcfc" stroke-width="1"/>
<line x1="284.5" y1="1118" x2="284.5" y2="1236" stroke="#c8cfc8" stroke-width="1" stroke-dasharray="3,1"/>
<line x1="355.5" y1="1118" x2="355.5" y2="1236" stroke="#fcdcfc" stroke-width="1"/>
<line x1="355.5" y1="1118" x2="355.5" y2="1236" stroke="#c8cfc8" stroke-width="1" stroke-dasharray="3,1"/>
<line x1="426.5" y1="1118" x2="426.5" y2="1236" stroke="#fcdcfc" stroke-width="1"/>
<line x1="426.5" y1="1118" x2="426.5" y2="1236" stroke="#c8cfc8" stroke-width="1" stroke-dasharray="3,1"/>
<line x1="497.5" y1="1118" x2="497.5" y2="1236" stroke="#fcdcfc" stroke-width="1"/>
<line x1="497.5" y1="1118" x2="497.5" y2="1236" stroke="#c8cfc8" stroke-width="1" stroke-dasharray="3,1"/>
<line x1="561.5" y1="1118" x2="561.5" y2="1236" stroke="#fcdcfc" stroke-width="1"/>
<line x1="561.5" y1="1118" x2="561.5" y2="1236" stroke="#c8cfc8" stroke-width="1" stroke-dasharray="3,1"/>
<line x1="635.5" y1="1118" x2="635.5" y2="1236" stroke="#fcdcfc" stroke-width="1"/>
<line x1="635.5" y1="1118" x2="635.5" y2="1236" stroke="#c8cfc8" stroke-width="1" stroke-dasharray="3,1"/>
<line x1="700.5" y1="1118" x2="700.5" y2="1236" stroke="#fcdcfc" stroke-width="1"/>
<line x1="700.5" y1="1118" x2="700.5" y2="1236" stroke="#c8cfc8" stroke-width="1" stroke-dasharray="3,1"/>
<line x1="774.5" y1="1118" x2="774.5" y2="1236" stroke="#fcdcfc" stroke-width="1"/>
<line x1="774.5" y1="1118" x2="774.5" y2="1236" stroke="#c8cfc8" stroke-width="1" stroke-dasharray="3,1"/>
<line x1="845.5" y1="1118" x2="845.5" y2="1236" stroke="#fcdcfc" stroke-width="1"/>
<line x1="845.5" y1="1118" x2="845.5" y2="1236" stroke="#c8cfc8" stroke-width="1" stroke-dasharray="3,1"/>
<clipPath id="c3"><rect x="0" y="0" width="1450" height="1162.5"/></clipPath>
<polygon points="4,1153.8 7.1,1151.4 10.3,1155.1 13.5,1153.5 16.7,1156.6 19.8,1160.5 23,1161.7 26.2,1168.4 30.1,1170.5 33.3,1172 36.5,1173.1 39.7,1175.2 42.8,1176.8 46,1183.1 49.2,1184.7 52.3,1185.8 55.8,1191.1 58.7,1190.3 61.9,1181.1 65,1177.3 68.2,1172 71.4,1167.3 74.6,1161.7 77.7,1160.1 81.7,1160.5 84.9,1170.5 88,1179.2 91.2,1176 94.4,1167.3 97.6,1172 100.7,1173.1 103.9,1176.3 107.1,1168.9 110.2,1170.9 113.4,1166.5 116.6,1175.7 119.8,1185.5 122.9,1185.5 126.1,1197.4 129.8,1206.1 132.9,1196.6 136.1,1199.8 139.3,1203 142.4,1203.8 145.6,1199 148.8,1187.9 152.3,1183.1 155.5,1168.9 158.6,1165.2 161.8,1169.7 165.3,1177.6 168.5,1181.6 171.6,1184.3 174.8,1184.7 178,1187.9 181.2,1193.1 184.3,1189 188,1185.8 191.1,1172 194.3,1162.5 197.5,1163 200.7,1164.6 203.8,1172.8 207,1181.1 210.2,1183.6 213.4,1185.8 217,1191.1 220.2,1216.5 223.7,1220.1 226.8,1215.7 228.2,1210.9 232.9,1199 237.7,1195.4 242.4,1190.6 246.4,1190.3 250.4,1187.4 255.9,1182.3 262.3,1182.3 265.5,1180.8 268.6,1178.4 271.8,1178.4 275,1176.8 278.1,1170.5 281.3,1162.5 284.5,1147.4 287.7,1139.5 290.8,1145.9 294.5,1149 297.7,1165.2 300.8,1171.6 304,1160.5 307.2,1183.9 310.3,1204.9 313.5,1214.4 317,1206.1 320.2,1202.2 323.4,1199.8 326.5,1199 329.7,1194.7 332.9,1191.9 336,1195 339.2,1195 342.4,1193.5 345.9,1190 349,1190 352.2,1191.5 355.4,1193.5 358.6,1191.5 361.7,1192.2 365.4,1190 368.6,1188.7 371.7,1188.7 374.9,1192.2 380.5,1192.7 384.4,1199.5 387.6,1205.3 390.8,1201.4 394.4,1196.3 397.6,1197.9 400.8,1195.4 403.9,1194.2 407.1,1191.1 410.3,1188.4 413.5,1184.7 416.6,1182.7 419.8,1174.7 423,1172 426.1,1173.1 429.3,1170 432.5,1163.3 435.7,1152.2 439.2,1155.1 442.3,1153.8 445.5,1152.5 448.7,1154.6 451.8,1153.5 455.6,1158.2 458.7,1157.8 461.4,1156.2 465.1,1159.3 468.2,1163.3 471.4,1163 474.6,1160.1 477.8,1163.3 480.9,1168.9 484.1,1174.7 487.8,1178.4 490.9,1174.7 494.1,1167.8 497.3,1167.3 500.4,1160.1 503.6,1158.9 506.8,1148.2 510,1149.4 513.5,1148.2 516.6,1157 519.8,1161.4 523,1166.2 526.1,1166.2 529.3,1167.3 532.5,1160.9 535.7,1163.3 538.8,1165.2 542.3,1168.4 545.5,1166.8 548.7,1160.9 551.8,1153 555,1151.4 558.2,1156.2 561.4,1163.3 564.5,1172.8 567.7,1185.5 571.4,1190.3 574.5,1199 577.7,1204.6 580.9,1207.4 584.5,1202.2 587.7,1197.4 590.9,1195.4 594,1186.3 597.2,1178.4 600.4,1176.8 603.6,1173.6 607,1168.9 610.5,1164.6 613.7,1165.2 616.9,1164.9 619.7,1158.9 622.9,1160.9 626.1,1162.5 629.3,1165.7 632.4,1167.3 635.6,1165.7 638.8,1163.3 642.3,1167.3 645.4,1166.8 648.6,1163.3 651.8,1168.1 655,1153.8 658.1,1140.8 661.3,1140.8 664.5,1145.9 667.6,1152.2 671.3,1157.8 674.5,1163.3 677.4,1165.7 681,1165.7 684.5,1172 687.7,1176 690.9,1178.4 694,1180.4 697.2,1180.4 700.4,1186.3 703.6,1190.3 706.7,1198.2 709.9,1206.1 713.1,1203 716.2,1201.4 719.4,1200.1 722.6,1196.6 725.8,1193.1 728.9,1189.5 732.1,1186.8 735.3,1183.9 738.5,1174.4 741.6,1173.1 744.8,1172 748.3,1168.1 751.5,1168.9 754.6,1168.4 757.8,1167.3 761.5,1161.4 764.6,1159.8 767.8,1161.7 771,1162.5 774.1,1164.1 777.3,1160.5 780.5,1157 784.1,1152.5 787.3,1154.1 790.5,1162.5 793.7,1169.3 796.8,1173.6 800.3,1178.4 803.2,1178.4 806.3,1187.9 809.5,1193.1 812.7,1198.5 815.9,1201.1 819,1198.2 822.2,1193.1 825.7,1186.3 828.9,1193.1 832,1190 835.5,1186.3 838.7,1187.9 841.9,1189.5 845.1,1198.2 848.2,1201.4 851.4,1200.6 854.6,1198.2 858.7,1203 861.9,1201.1 865,1194.7 868.2,1189.5 871.4,1188.4 874.6,1183.6 877.7,1177.3 880.9,1171.6 884.1,1170.9 887.2,1168.9 891,1160.5 894.2,1158.6 896.8,1159.8 896.8,1162.5 4,1162.5" fill="url(#redf)" clip-path="url(#c3)"/>
<clipPath id="c4"><rect x="0" y="1191.5" width="1450" height="1390"/></clipPath>
<polygon points="4,1153.8 7.1,1151.4 10.3,1155.1 13.5,1153.5 16.7,1156.6 19.8,1160.5 23,1161.7 26.2,1168.4 30.1,1170.5 33.3,1172 36.5,1173.1 39.7,1175.2 42.8,1176.8 46,1183.1 49.2,1184.7 52.3,1185.8 55.8,1191.1 58.7,1190.3 61.9,1181.1 65,1177.3 68.2,1172 71.4,1167.3 74.6,1161.7 77.7,1160.1 81.7,1160.5 84.9,1170.5 88,1179.2 91.2,1176 94.4,1167.3 97.6,1172 100.7,1173.1 103.9,1176.3 107.1,1168.9 110.2,1170.9 113.4,1166.5 116.6,1175.7 119.8,1185.5 122.9,1185.5 126.1,1197.4 129.8,1206.1 132.9,1196.6 136.1,1199.8 139.3,1203 142.4,1203.8 145.6,1199 148.8,1187.9 152.3,1183.1 155.5,1168.9 158.6,1165.2 161.8,1169.7 165.3,1177.6 168.5,1181.6 171.6,1184.3 174.8,1184.7 178,1187.9 181.2,1193.1 184.3,1189 188,1185.8 191.1,1172 194.3,1162.5 197.5,1163 200.7,1164.6 203.8,1172.8 207,1181.1 210.2,1183.6 213.4,1185.8 217,1191.1 220.2,1216.5 223.7,1220.1 226.8,1215.7 228.2,1210.9 232.9,1199 237.7,1195.4 242.4,1190.6 246.4,1190.3 250.4,1187.4 255.9,1182.3 262.3,1182.3 265.5,1180.8 268.6,1178.4 271.8,1178.4 275,1176.8 278.1,1170.5 281.3,1162.5 284.5,1147.4 287.7,1139.5 290.8,1145.9 294.5,1149 297.7,1165.2 300.8,1171.6 304,1160.5 307.2,1183.9 310.3,1204.9 313.5,1214.4 317,1206.1 320.2,1202.2 323.4,1199.8 326.5,1199 329.7,1194.7 332.9,1191.9 336,1195 339.2,1195 342.4,1193.5 345.9,1190 349,1190 352.2,1191.5 355.4,1193.5 358.6,1191.5 361.7,1192.2 365.4,1190 368.6,1188.7 371.7,1188.7 374.9,1192.2 380.5,1192.7 384.4,1199.5 387.6,1205.3 390.8,1201.4 394.4,1196.3 397.6,1197.9 400.8,1195.4 403.9,1194.2 407.1,1191.1 410.3,1188.4 413.5,1184.7 416.6,1182.7 419.8,1174.7 423,1172 426.1,1173.1 429.3,1170 432.5,1163.3 435.7,1152.2 439.2,1155.1 442.3,1153.8 445.5,1152.5 448.7,1154.6 451.8,1153.5 455.6,1158.2 458.7,1157.8 461.4,1156.2 465.1,1159.3 468.2,1163.3 471.4,1163 474.6,1160.1 477.8,1163.3 480.9,1168.9 484.1,1174.7 487.8,1178.4 490.9,1174.7 494.1,1167.8 497.3,1167.3 500.4,1160.1 503.6,1158.9 506.8,1148.2 510,1149.4 513.5,1148.2 516.6,1157 519.8,1161.4 523,1166.2 526.1,1166.2 529.3,1167.3 532.5,1160.9 535.7,1163.3 538.8,1165.2 542.3,1168.4 545.5,1166.8 548.7,1160.9 551.8,1153 555,1151.4 558.2,1156.2 561.4,1163.3 564.5,1172.8 567.7,1185.5 571.4,1190.3 574.5,1199 577.7,1204.6 580.9,1207.4 584.5,1202.2 587.7,1197.4 590.9,1195.4 594,1186.3 597.2,1178.4 600.4,1176.8 603.6,1173.6 607,1168.9 610.5,1164.6 613.7,1165.2 616.9,1164.9 619.7,1158.9 622.9,1160.9 626.1,1162.5 629.3,1165.7 632.4,1167.3 635.6,1165.7 638.8,1163.3 642.3,1167.3 645.4,1166.8 648.6,1163.3 651.8,1168.1 655,1153.8 658.1,1140.8 661.3,1140.8 664.5,1145.9 667.6,1152.2 671.3,1157.8 674.5,1163.3 677.4,1165.7 681,1165.7 684.5,1172 687.7,1176 690.9,1178.4 694,1180.4 697.2,1180.4 700.4,1186.3 703.6,1190.3 706.7,1198.2 709.9,1206.1 713.1,1203 716.2,1201.4 719.4,1200.1 722.6,1196.6 725.8,1193.1 728.9,1189.5 732.1,1186.8 735.3,1183.9 738.5,1174.4 741.6,1173.1 744.8,1172 748.3,1168.1 751.5,1168.9 754.6,1168.4 757.8,1167.3 761.5,1161.4 764.6,1159.8 767.8,1161.7 771,1162.5 774.1,1164.1 777.3,1160.5 780.5,1157 784.1,1152.5 787.3,1154.1 790.5,1162.5 793.7,1169.3 796.8,1173.6 800.3,1178.4 803.2,1178.4 806.3,1187.9 809.5,1193.1 812.7,1198.5 815.9,1201.1 819,1198.2 822.2,1193.1 825.7,1186.3 828.9,1193.1 832,1190 835.5,1186.3 838.7,1187.9 841.9,1189.5 845.1,1198.2 848.2,1201.4 851.4,1200.6 854.6,1198.2 858.7,1203 861.9,1201.1 865,1194.7 868.2,1189.5 871.4,1188.4 874.6,1183.6 877.7,1177.3 880.9,1171.6 884.1,1170.9 887.2,1168.9 891,1160.5 894.2,1158.6 896.8,1159.8 896.8,1191.5 4,1191.5" fill="url(#bluef)" clip-path="url(#c4)"/>
<line x1="2.5" y1="1162.5" x2="898.5" y2="1162.5" stroke="#ff4848" stroke-width="1"/>
<line x1="2.5" y1="1191.5" x2="898.5" y2="1191.5" stroke="#4848ff" stroke-width="1"/>
<polyline points="4,1153.8 7.1,1151.4 10.3,1155.1 13.5,1153.5 16.7,1156.6 19.8,1160.5 23,1161.7 26.2,1168.4 30.1,1170.5 33.3,1172 36.5,1173.1 39.7,1175.2 42.8,1176.8 46,1183.1 49.2,1184.7 52.3,1185.8 55.8,1191.1 58.7,1190.3 61.9,1181.1 65,1177.3 68.2,1172 71.4,1167.3 74.6,1161.7 77.7,1160.1 81.7,1160.5 84.9,1170.5 88,1179.2 91.2,1176 94.4,1167.3 97.6,1172 100.7,1173.1 103.9,1176.3 107.1,1168.9 110.2,1170.9 113.4,1166.5 116.6,1175.7 119.8,1185.5 122.9,1185.5 126.1,1197.4 129.8,1206.1 132.9,1196.6 136.1,1199.8 139.3,1203 142.4,1203.8 145.6,1199 148.8,1187.9 152.3,1183.1 155.5,1168.9 158.6,1165.2 161.8,1169.7 165.3,1177.6 168.5,1181.6 171.6,1184.3 174.8,1184.7 178,1187.9 181.2,1193.1 184.3,1189 188,1185.8 191.1,1172 194.3,1162.5 197.5,1163 200.7,1164.6 203.8,1172.8 207,1181.1 210.2,1183.6 213.4,1185.8 217,1191.1 220.2,1216.5 223.7,1220.1 226.8,1215.7 228.2,1210.9 232.9,1199 237.7,1195.4 242.4,1190.6 246.4,1190.3 250.4,1187.4 255.9,1182.3 262.3,1182.3 265.5,1180.8 268.6,1178.4 271.8,1178.4 275,1176.8 278.1,1170.5 281.3,1162.5 284.5,1147.4 287.7,1139.5 290.8,1145.9 294.5,1149 297.7,1165.2 300.8,1171.6 304,1160.5 307.2,1183.9 310.3,1204.9 313.5,1214.4 317,1206.1 320.2,1202.2 323.4,1199.8 326.5,1199 329.7,1194.7 332.9,1191.9 336,1195 339.2,1195 342.4,1193.5 345.9,1190 349,1190 352.2,1191.5 355.4,1193.5 358.6,1191.5 361.7,1192.2 365.4,1190 368.6,1188.7 371.7,1188.7 374.9,1192.2 380.5,1192.7 384.4,1199.5 387.6,1205.3 390.8,1201.4 394.4,1196.3 397.6,1197.9 400.8,1195.4 403.9,1194.2 407.1,1191.1 410.3,1188.4 413.5,1184.7 416.6,1182.7 419.8,1174.7 423,1172 426.1,1173.1 429.3,1170 432.5,1163.3 435.7,1152.2 439.2,1155.1 442.3,1153.8 445.5,1152.5 448.7,1154.6 451.8,1153.5 455.6,1158.2 458.7,1157.8 461.4,1156.2 465.1,1159.3 468.2,1163.3 471.4,1163 474.6,1160.1 477.8,1163.3 480.9,1168.9 484.1,1174.7 487.8,1178.4 490.9,1174.7 494.1,1167.8 497.3,1167.3 500.4,1160.1 503.6,1158.9 506.8,1148.2 510,1149.4 513.5,1148.2 516.6,1157 519.8,1161.4 523,1166.2 526.1,1166.2 529.3,1167.3 532.5,1160.9 535.7,1163.3 538.8,1165.2 542.3,1168.4 545.5,1166.8 548.7,1160.9 551.8,1153 555,1151.4 558.2,1156.2 561.4,1163.3 564.5,1172.8 567.7,1185.5 571.4,1190.3 574.5,1199 577.7,1204.6 580.9,1207.4 584.5,1202.2 587.7,1197.4 590.9,1195.4 594,1186.3 597.2,1178.4 600.4,1176.8 603.6,1173.6 607,1168.9 610.5,1164.6 613.7,1165.2 616.9,1164.9 619.7,1158.9 622.9,1160.9 626.1,1162.5 629.3,1165.7 632.4,1167.3 635.6,1165.7 638.8,1163.3 642.3,1167.3 645.4,1166.8 648.6,1163.3 651.8,1168.1 655,1153.8 658.1,1140.8 661.3,1140.8 664.5,1145.9 667.6,1152.2 671.3,1157.8 674.5,1163.3 677.4,1165.7 681,1165.7 684.5,1172 687.7,1176 690.9,1178.4 694,1180.4 697.2,1180.4 700.4,1186.3 703.6,1190.3 706.7,1198.2 709.9,1206.1 713.1,1203 716.2,1201.4 719.4,1200.1 722.6,1196.6 725.8,1193.1 728.9,1189.5 732.1,1186.8 735.3,1183.9 738.5,1174.4 741.6,1173.1 744.8,1172 748.3,1168.1 751.5,1168.9 754.6,1168.4 757.8,1167.3 761.5,1161.4 764.6,1159.8 767.8,1161.7 771,1162.5 774.1,1164.1 777.3,1160.5 780.5,1157 784.1,1152.5 787.3,1154.1 790.5,1162.5 793.7,1169.3 796.8,1173.6 800.3,1178.4 803.2,1178.4 806.3,1187.9 809.5,1193.1 812.7,1198.5 815.9,1201.1 819,1198.2 822.2,1193.1 825.7,1186.3 828.9,1193.1 832,1190 835.5,1186.3 838.7,1187.9 841.9,1189.5 845.1,1198.2 848.2,1201.4 851.4,1200.6 854.6,1198.2 858.7,1203 861.9,1201.1 865,1194.7 868.2,1189.5 871.4,1188.4 874.6,1183.6 877.7,1177.3 880.9,1171.6 884.1,1170.9 887.2,1168.9 891,1160.5 894.2,1158.6 896.8,1159.8" fill="none" stroke="#800080" stroke-width="1.2"/>
<rect x="2.5" y="1117.5" width="896.0" height="119.0" fill="none" stroke="#c8cfc8"/>
<text x="902" y="1121.1" fill="#000" font-size="10.67" text-anchor="start" font-weight="normal">400</text>
<text x="902" y="1150.9" fill="#000" font-size="10.67" text-anchor="start" font-weight="normal">200</text>
<text x="902" y="1165.7" fill="#ff4040" font-size="10.67" text-anchor="start" font-weight="normal">100</text>
<text x="902" y="1180.6" fill="#000" font-size="10.67" text-anchor="start" font-weight="normal">0</text>
<text x="902" y="1195.5" fill="#4040ff" font-size="10.67" text-anchor="start" font-weight="normal">-100</text>
<text x="902" y="1210.3" fill="#000" font-size="10.67" text-anchor="start" font-weight="normal">-200</text>
<text x="902" y="1240.1" fill="#000" font-size="10.67" text-anchor="start" font-weight="normal">-400</text>
</svg></body></html>
